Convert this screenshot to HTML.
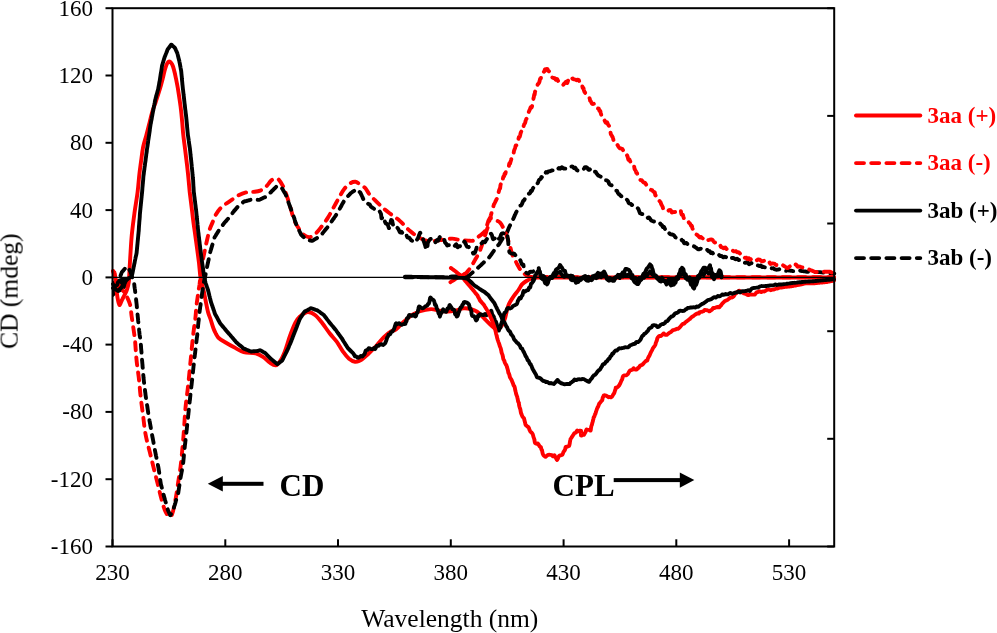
<!DOCTYPE html>
<html><head><meta charset="utf-8"><style>
html,body{margin:0;padding:0;background:#fff;overflow:hidden;width:997px;height:633px;}
svg{display:block;font-family:"Liberation Serif",serif;}
</style></head><body>
<svg width="997" height="633" viewBox="0 0 997 633">
<rect width="997" height="633" fill="#fff"/>
<g style="filter:grayscale(1)">
<g font-size="23" fill="#000">
<text x="93" y="553.9" text-anchor="end">-160</text>
<text x="93" y="486.6" text-anchor="end">-120</text>
<text x="93" y="419.3" text-anchor="end">-80</text>
<text x="93" y="352.0" text-anchor="end">-40</text>
<text x="93" y="284.8" text-anchor="end">0</text>
<text x="93" y="217.5" text-anchor="end">40</text>
<text x="93" y="150.2" text-anchor="end">80</text>
<text x="93" y="82.9" text-anchor="end">120</text>
<text x="93" y="15.6" text-anchor="end">160</text>
<text x="112.5" y="580.2" text-anchor="middle">230</text>
<text x="225.3" y="580.2" text-anchor="middle">280</text>
<text x="338.0" y="580.2" text-anchor="middle">330</text>
<text x="450.8" y="580.2" text-anchor="middle">380</text>
<text x="563.6" y="580.2" text-anchor="middle">430</text>
<text x="676.3" y="580.2" text-anchor="middle">480</text>
<text x="789.1" y="580.2" text-anchor="middle">530</text>
</g>
<text x="449.8" y="627" font-size="25.5" text-anchor="middle">Wavelength (nm)</text>
<text transform="translate(17.6,291.2) rotate(-90)" font-size="25.5" text-anchor="middle">CD (mdeg)</text>
</g>
<g>
<path d="M405.0,277.2 C405.5,277.2 406.1,277.2 406.6,277.2 C407.1,277.2 407.7,277.2 408.2,277.2 C408.7,277.2 409.2,277.2 409.8,277.2 C410.3,277.2 410.8,277.2 411.4,277.2 C411.9,277.2 412.4,277.2 413.0,277.2 C413.5,277.2 414.0,277.2 414.5,277.2 C415.1,277.2 415.6,277.2 416.1,277.2 C416.7,277.2 417.2,277.2 417.7,277.2 C418.3,277.2 418.8,277.2 419.3,277.2 C419.8,277.2 420.4,277.2 420.9,277.2 C421.4,277.2 422.0,277.2 422.5,277.2 C423.0,277.3 423.6,277.3 424.1,277.3 C424.6,277.3 425.2,277.3 425.7,277.3 C426.2,277.3 426.7,277.3 427.3,277.3 C427.8,277.3 428.3,277.3 428.9,277.3 C429.4,277.3 429.9,277.3 430.5,277.3 C431.0,277.3 431.5,277.3 432.0,277.3 C432.6,277.3 433.1,277.3 433.6,277.3 C434.2,277.3 434.7,277.3 435.2,277.3 C435.8,277.3 436.3,277.3 436.8,277.3 C437.3,277.3 437.9,277.3 438.4,277.3 C438.9,277.3 439.5,277.3 440.0,277.3 C440.5,277.3 441.0,277.2 441.5,277.2 C442.0,277.2 442.5,277.1 443.0,277.1 C443.5,277.1 444.1,277.0 444.6,277.0 C445.1,277.0 445.6,277.0 446.1,276.9 C446.6,276.9 447.1,276.9 447.6,276.8 C448.1,276.8 448.6,276.8 449.1,276.7 C449.6,276.7 450.1,276.7 450.6,276.6 C451.2,276.6 451.7,276.6 452.2,276.5 C452.7,276.5 453.2,276.5 453.7,276.4 C454.2,276.4 454.7,276.4 455.2,276.4 C455.7,276.3 456.2,276.3 456.7,276.3 C457.2,276.2 457.7,276.2 458.3,276.2 C458.8,276.1 459.3,276.1 459.8,276.1 C460.3,276.0 460.8,276.0 461.3,276.0 C461.8,275.9 462.3,275.9 462.8,275.9 C463.3,275.8 463.8,275.8 464.3,275.8 C464.8,275.8 465.4,275.7 465.9,275.7 C466.4,275.7 466.9,275.6 467.4,275.6 C467.9,275.6 468.5,275.7 468.9,275.5 C469.4,275.3 469.7,274.8 470.1,274.5 C470.5,274.1 470.9,273.8 471.3,273.5 C471.7,273.1 472.1,272.8 472.5,272.5 C472.9,272.1 473.4,271.8 473.8,271.4 C474.2,271.1 474.6,270.8 475.0,270.4 C475.4,270.1 475.8,269.8 476.2,269.4 C476.6,269.1 477.0,268.8 477.4,268.4 C477.8,268.1 478.1,267.7 478.5,267.4 C478.8,267.0 479.2,266.7 479.6,266.3 C479.9,266.0 480.3,265.7 480.7,265.3 C481.0,265.0 481.4,264.6 481.7,264.3 C482.1,263.9 482.5,263.6 482.8,263.3 C483.2,262.9 483.6,262.6 483.9,262.2 C484.3,261.9 484.6,261.5 485.0,261.2 C485.3,260.9 485.6,260.7 485.9,260.5 C486.2,260.2 486.6,260.0 486.9,259.7 C487.2,259.5 487.5,259.3 487.8,259.0 C488.1,258.7 488.3,258.4 488.6,258.1 C488.8,257.8 489.1,257.4 489.3,257.1 C489.6,256.8 489.9,256.5 490.1,256.2 C490.4,255.8 490.7,255.4 490.9,255.0 C491.2,254.6 491.5,254.2 491.8,253.8 C492.0,253.4 492.3,253.0 492.6,252.6 C492.9,252.3 493.2,251.9 493.4,251.5 C493.7,251.1 494.0,250.7 494.3,250.3 C494.5,249.9 494.8,249.5 495.1,249.1 C495.4,248.8 495.6,248.4 495.9,248.1 C496.2,247.8 496.4,247.4 496.7,247.1 C497.0,246.8 497.2,246.4 497.5,246.1 C497.8,245.8 498.0,245.4 498.3,245.1 C498.6,244.8 498.9,244.4 499.1,244.1 C499.4,243.7 499.7,243.2 499.9,242.8 C500.2,242.3 500.5,241.9 500.8,241.4 C501.0,241.0 501.3,240.5 501.6,240.1 C501.9,239.7 502.2,239.2 502.4,238.8 C502.7,238.3 503.0,237.9 503.3,237.4 C503.5,237.0 503.8,236.5 504.1,236.1 C504.3,235.8 504.6,235.4 504.9,235.1 C505.1,234.8 505.4,234.4 505.6,234.1 C505.9,233.8 506.1,233.4 506.4,233.1 C506.6,232.8 506.9,232.5 507.1,232.1 C507.3,231.7 507.5,231.2 507.7,230.7 C507.9,230.2 508.1,229.7 508.3,229.2 C508.5,228.8 508.7,228.3 508.9,227.8 C509.1,227.3 509.3,226.9 509.5,226.4 C509.7,225.9 510.0,225.5 510.2,225.0 C510.5,224.5 510.7,224.1 510.9,223.6 C511.2,223.1 511.4,222.7 511.7,222.2 C511.9,221.7 512.2,221.3 512.4,220.8 C512.6,220.3 512.8,219.8 513.0,219.4 C513.2,218.9 513.5,218.4 513.7,217.9 C513.9,217.5 514.1,217.0 514.3,216.5 C514.5,216.0 514.7,215.5 514.9,215.1 C515.1,214.6 515.4,214.1 515.6,213.6 C515.8,213.2 515.9,212.7 516.2,212.2 C516.4,211.8 516.8,211.4 517.0,211.0 C517.3,210.6 517.6,210.2 517.9,209.8 C518.1,209.5 518.4,209.1 518.7,208.7 C518.9,208.3 519.3,207.9 519.5,207.5 C519.8,206.9 519.9,206.2 520.3,205.7 C520.4,205.5 520.9,205.7 521.0,205.5 C521.4,205.2 521.6,204.7 521.8,204.2 C522.1,203.7 522.3,203.1 522.5,202.6 C522.8,202.0 522.9,201.2 523.3,200.7 C523.4,200.5 523.8,200.6 524.0,200.4 C524.3,200.0 524.5,199.5 524.8,199.0 C525.0,198.4 525.2,197.7 525.5,197.1 C525.7,196.8 526.2,196.6 526.5,196.3 C526.8,195.9 527.1,195.4 527.4,195.0 C527.7,194.6 528.0,194.1 528.3,193.8 C528.6,193.6 529.0,193.8 529.3,193.7 C529.6,193.5 530.0,193.2 530.1,192.9 C530.5,192.3 530.6,191.3 531.0,190.8 C531.2,190.6 531.7,191.1 531.8,190.9 C532.3,190.4 532.3,189.4 532.7,188.8 C532.9,188.3 533.3,188.0 533.5,187.6 C533.9,187.1 534.0,186.3 534.4,186.1 C534.6,185.9 535.1,186.7 535.4,186.5 C535.8,186.3 535.9,185.4 536.3,184.8 C536.6,184.5 537.0,184.2 537.2,183.8 C537.6,183.3 537.9,182.7 538.2,182.1 C538.5,181.4 538.6,180.6 539.0,180.0 C539.2,179.7 539.6,179.7 539.9,179.5 C540.2,179.3 540.5,179.0 540.7,178.7 C541.1,178.2 541.2,177.3 541.5,177.0 C541.7,176.9 542.2,177.6 542.4,177.5 C542.8,177.1 542.9,176.0 543.2,175.4 C543.4,174.9 543.8,174.3 544.2,174.0 C544.4,173.9 544.9,174.5 545.1,174.3 C545.5,173.8 545.6,172.5 546.0,172.1 C546.2,171.9 546.7,172.7 547.0,172.6 C547.5,172.4 547.9,171.6 548.5,171.4 C548.9,171.2 549.5,171.4 550.0,171.2 C550.5,171.1 551.0,170.7 551.5,170.5 C552.0,170.4 552.5,170.5 553.0,170.3 C553.5,170.0 554.0,169.5 554.5,169.2 C555.0,168.9 555.5,168.4 556.0,168.5 C556.5,168.5 557.0,169.6 557.4,169.6 C558.0,169.5 558.3,168.2 558.9,168.1 C559.3,167.9 559.9,168.8 560.3,168.7 C560.9,168.5 561.2,167.3 561.8,167.3 C562.2,167.2 562.7,168.0 563.2,168.2 C563.6,168.4 564.0,168.5 564.4,168.5 C564.8,168.6 565.2,168.6 565.6,168.7 C566.0,168.8 566.4,169.2 566.8,169.2 C567.3,169.1 567.8,168.5 568.3,168.4 C568.8,168.2 569.4,168.4 569.8,168.2 C570.4,167.8 570.8,166.9 571.4,166.6 C571.8,166.4 572.5,166.5 572.9,166.8 C573.4,167.0 573.6,167.9 574.1,168.1 C574.4,168.3 575.0,167.6 575.3,167.7 C575.8,168.1 576.0,169.2 576.5,169.8 C576.8,170.1 577.3,170.4 577.7,170.5 C578.1,170.5 578.5,170.5 578.9,170.3 C579.3,170.2 579.7,169.8 580.1,169.6 C580.5,169.5 580.9,169.4 581.3,169.2 C581.7,169.0 582.1,168.5 582.5,168.4 C582.9,168.4 583.4,169.1 583.7,168.9 C584.2,168.7 584.4,167.6 584.9,167.2 C585.2,167.0 585.7,167.1 586.1,167.2 C586.5,167.3 587.0,167.6 587.3,167.9 C587.8,168.4 588.0,169.3 588.5,169.7 C588.8,169.9 589.4,169.8 589.7,169.6 C590.2,169.3 590.5,168.2 590.9,168.1 C591.3,168.0 591.7,168.8 592.1,169.1 C592.5,169.5 592.9,169.9 593.3,170.3 C593.7,170.7 594.0,171.4 594.5,171.7 C594.8,171.9 595.4,171.6 595.7,171.8 C596.1,172.2 596.2,173.0 596.6,173.5 C596.8,173.9 597.2,174.2 597.5,174.5 C597.8,174.9 598.0,175.4 598.4,175.7 C598.6,175.9 599.0,175.8 599.3,175.9 C599.7,176.1 600.1,176.3 600.5,176.6 C600.9,176.9 601.4,177.2 601.7,177.6 C602.2,178.2 602.4,179.1 603.0,179.4 C603.3,179.5 603.8,178.9 604.2,179.0 C604.6,179.2 604.9,179.9 605.4,180.2 C605.7,180.4 606.2,180.2 606.6,180.4 C606.9,180.5 607.2,180.7 607.5,180.9 C607.8,181.1 608.2,181.4 608.4,181.7 C608.8,182.4 608.9,183.3 609.3,184.0 C609.5,184.3 609.9,184.6 610.2,184.8 C610.6,185.0 611.1,184.9 611.4,185.1 C611.9,185.5 612.2,186.2 612.6,186.7 C613.0,187.1 613.4,187.4 613.8,187.8 C614.2,188.2 614.6,188.7 615.0,189.2 C615.3,189.6 615.6,190.2 616.0,190.5 C616.2,190.7 616.7,190.5 616.9,190.7 C617.4,191.3 617.5,192.3 617.9,193.0 C618.1,193.4 618.5,193.8 618.8,194.1 C619.1,194.4 619.5,194.4 619.8,194.7 C620.3,195.1 620.5,195.8 621.0,196.1 C621.3,196.4 621.8,196.2 622.2,196.4 C622.6,196.6 623.0,196.9 623.4,197.2 C623.8,197.4 624.3,197.5 624.6,197.9 C625.1,198.5 625.3,199.6 625.8,200.0 C626.0,200.1 626.4,199.6 626.7,199.6 C627.0,199.7 627.4,200.0 627.6,200.4 C628.0,201.0 628.1,201.9 628.5,202.6 C628.7,203.0 629.0,203.3 629.4,203.5 C629.7,203.7 630.3,203.5 630.6,203.7 C631.1,204.0 631.3,204.9 631.8,205.0 C632.1,205.1 632.6,204.2 633.0,204.3 C633.4,204.4 633.8,205.0 634.2,205.4 C634.6,205.6 635.0,205.8 635.4,206.1 C635.8,206.4 636.2,206.7 636.6,207.1 C636.9,207.3 637.1,207.5 637.3,207.7 C637.6,208.0 637.9,208.3 638.1,208.6 C638.4,209.1 638.6,209.6 638.8,210.1 C639.1,210.8 639.3,211.6 639.6,212.2 C639.8,212.7 640.0,213.2 640.3,213.5 C640.6,213.7 641.1,213.8 641.5,213.9 C641.9,214.0 642.3,214.1 642.7,214.2 C643.1,214.4 643.6,214.4 643.9,214.7 C644.4,215.2 644.6,216.3 645.1,216.8 C645.4,217.0 646.0,216.7 646.3,216.8 C646.8,217.1 647.1,217.8 647.5,217.9 C647.9,218.0 648.3,217.3 648.7,217.4 C649.1,217.5 649.6,218.0 649.9,218.4 C650.4,219.0 650.6,219.8 651.1,220.3 C651.4,220.6 651.9,220.7 652.3,220.9 C652.8,221.2 653.3,221.4 653.8,221.5 C654.3,221.6 654.8,221.5 655.3,221.5 C655.8,221.5 656.3,221.5 656.8,221.6 C657.3,221.8 657.9,222.0 658.3,222.3 C658.7,222.7 658.8,223.4 659.2,223.7 C659.4,223.8 659.9,223.4 660.1,223.5 C660.5,223.7 660.6,224.4 661.0,224.7 C661.2,224.9 661.7,224.9 661.9,225.1 C662.3,225.6 662.5,226.7 662.9,227.1 C663.1,227.3 663.7,226.6 663.9,226.8 C664.4,227.3 664.6,228.4 665.0,229.1 C665.2,229.7 665.5,230.5 666.0,230.7 C666.2,230.8 666.8,230.0 667.0,230.1 C667.4,230.5 667.5,231.7 668.0,232.3 C668.3,232.7 668.9,232.8 669.2,233.1 C669.7,233.5 670.0,234.0 670.5,234.2 C670.9,234.4 671.3,234.4 671.8,234.5 C672.2,234.6 672.6,234.5 673.0,234.7 C673.4,234.9 673.8,235.2 674.2,235.6 C674.6,236.1 674.9,236.8 675.4,237.3 C675.7,237.6 676.2,237.9 676.5,237.8 C677.0,237.8 677.3,237.1 677.7,237.1 C678.1,237.1 678.5,237.5 678.9,237.7 C679.3,237.9 679.7,238.1 680.1,238.4 C680.4,238.6 680.8,238.8 681.1,239.0 C681.5,239.5 681.7,240.2 682.1,240.6 C682.3,240.8 682.9,240.6 683.1,240.9 C683.6,241.4 683.6,242.4 684.1,243.0 C684.3,243.2 684.8,243.4 685.1,243.4 C685.6,243.4 686.1,242.9 686.5,243.0 C687.0,243.2 687.4,244.1 687.9,244.4 C688.3,244.6 688.9,244.5 689.3,244.6 C689.8,244.9 690.2,245.4 690.7,245.6 C691.1,245.7 691.6,245.6 692.1,245.7 C692.6,245.8 693.0,246.0 693.5,246.2 C694.0,246.4 694.5,246.6 694.9,246.8 C695.4,247.1 695.9,247.4 696.3,247.8 C696.8,248.2 697.2,248.7 697.7,249.0 C698.1,249.2 698.7,249.4 699.1,249.3 C699.6,249.2 700.1,248.5 700.5,248.6 C701.0,248.7 701.4,249.6 701.9,250.0 C702.3,250.2 702.8,250.4 703.3,250.5 C703.8,250.6 704.2,250.5 704.7,250.5 C705.2,250.5 705.7,250.8 706.1,250.7 C706.5,250.6 707.0,249.8 707.3,249.9 C707.8,250.0 708.0,251.1 708.5,251.3 C708.9,251.5 709.5,251.0 709.8,251.2 C710.3,251.6 710.5,252.8 711.0,253.1 C711.3,253.2 711.9,252.5 712.2,252.6 C712.7,252.8 713.0,253.9 713.5,254.1 C713.9,254.2 714.5,253.6 714.9,253.8 C715.4,253.9 715.7,254.8 716.2,255.1 C716.6,255.2 717.1,254.9 717.5,254.9 C718.0,254.8 718.5,254.7 718.9,254.9 C719.4,255.1 719.7,255.8 720.2,256.0 C720.6,256.2 721.3,255.9 721.7,256.1 C722.3,256.4 722.7,257.3 723.2,257.4 C723.7,257.5 724.2,256.6 724.7,256.6 C725.2,256.5 725.7,257.1 726.2,257.2 C726.6,257.3 727.1,257.3 727.5,257.4 C728.0,257.6 728.5,258.4 728.9,258.3 C729.4,258.2 729.7,256.9 730.2,256.9 C730.6,256.8 731.0,257.7 731.5,257.9 C731.9,258.1 732.4,257.8 732.9,257.9 C733.3,258.0 733.8,258.2 734.2,258.4 C734.7,258.7 735.2,259.3 735.7,259.3 C736.1,259.4 736.7,258.6 737.1,258.7 C737.6,258.8 738.0,259.6 738.5,259.9 C739.0,260.1 739.5,259.9 740.0,260.0 C740.5,260.2 740.9,260.6 741.3,260.6 C741.8,260.7 742.3,260.1 742.7,260.2 C743.2,260.6 743.5,261.6 744.0,262.1 C744.4,262.5 744.9,262.9 745.3,262.9 C745.8,263.0 746.2,262.3 746.7,262.3 C747.1,262.3 747.6,262.5 748.0,262.8 C748.5,263.2 748.9,264.3 749.3,264.3 C749.8,264.4 750.2,263.2 750.7,263.1 C751.0,262.9 751.6,263.2 752.0,263.3 C752.5,263.4 753.1,263.4 753.4,263.7 C754.0,264.1 754.3,265.0 754.9,265.4 C755.3,265.6 755.8,265.6 756.3,265.6 C756.8,265.6 757.3,265.4 757.8,265.4 C758.3,265.5 758.7,266.1 759.2,266.1 C759.7,266.1 760.2,265.3 760.7,265.4 C761.2,265.5 761.5,266.6 762.1,266.9 C762.5,267.1 763.0,266.8 763.4,266.8 C763.9,266.9 764.3,267.2 764.8,267.3 C765.2,267.4 765.7,267.3 766.1,267.4 C766.6,267.5 767.0,267.6 767.5,267.6 C768.0,267.7 768.5,267.6 769.0,267.5 C769.4,267.5 769.9,267.3 770.4,267.4 C770.9,267.6 771.3,268.2 771.8,268.3 C772.3,268.5 772.8,268.1 773.2,268.2 C773.8,268.4 774.2,269.0 774.7,269.3 C775.1,269.5 775.6,269.6 776.1,269.7 C776.6,269.7 777.1,269.7 777.6,269.6 C778.1,269.6 778.6,269.4 779.1,269.3 C779.6,269.2 780.1,269.0 780.6,269.0 C781.1,269.0 781.6,269.3 782.1,269.4 C782.5,269.5 783.0,269.6 783.5,269.7 C783.9,269.9 784.4,270.0 784.8,270.2 C785.3,270.4 785.8,271.0 786.2,270.9 C786.7,270.8 787.0,269.6 787.5,269.5 C787.9,269.4 788.4,270.2 788.9,270.4 C789.3,270.6 789.8,270.5 790.2,270.6 C790.7,270.7 791.2,270.8 791.7,270.9 C792.2,270.9 792.7,271.1 793.2,271.1 C793.7,271.0 794.2,270.8 794.7,270.7 C795.2,270.6 795.7,270.3 796.2,270.3 C796.7,270.3 797.1,270.7 797.6,270.8 C798.1,270.9 798.6,270.8 799.1,270.8 C799.5,270.8 800.0,270.7 800.5,270.7 C801.0,270.8 801.4,270.9 801.9,271.0 C802.4,271.0 802.9,271.1 803.3,271.2 C803.8,271.2 804.3,271.3 804.8,271.4 C805.2,271.5 805.7,271.5 806.2,271.6 C806.6,271.7 807.1,271.7 807.5,271.8 C808.0,271.8 808.4,271.9 808.9,271.9 C809.3,272.0 809.8,272.1 810.2,272.1 C810.7,272.1 811.2,272.1 811.6,272.1 C812.1,272.1 812.6,272.1 813.1,272.1 C813.5,272.1 814.0,272.1 814.5,272.1 C815.0,272.1 815.4,272.1 815.9,272.1 C816.4,272.1 816.9,272.1 817.3,272.1 C817.8,272.1 818.3,272.1 818.8,272.1 C819.2,272.1 819.7,272.1 820.2,272.1 C820.7,272.1 821.2,272.3 821.7,272.4 C822.2,272.4 822.7,272.5 823.2,272.6 C823.8,272.7 824.3,272.8 824.8,272.9 C825.3,272.9 825.8,273.0 826.3,273.1 C826.7,273.2 827.2,273.2 827.6,273.2 C828.1,273.2 828.5,273.2 829.0,273.3 C829.4,273.3 829.9,273.3 830.3,273.4 C830.7,273.4 831.2,273.4 831.6,273.4 C832.1,273.5 832.5,273.5 833.0,273.5 C833.4,273.5 833.9,273.6 834.3,273.6" fill="none" stroke="#000000" stroke-width="3.9" stroke-linecap="round" stroke-linejoin="round" stroke-dasharray="8 7.2"/>
<path d="M450.4,282.2 C450.8,281.9 451.3,281.6 451.7,281.3 C452.2,281.0 452.6,280.8 453.1,280.5 C453.5,280.2 454.0,279.9 454.4,279.6 C454.8,279.3 455.3,279.0 455.7,278.7 C456.2,278.4 456.6,278.2 457.1,277.9 C457.5,277.6 457.9,277.3 458.4,277.0 C458.8,276.8 459.2,276.6 459.7,276.4 C460.1,276.2 460.5,275.9 460.9,275.7 C461.4,275.5 461.8,275.3 462.2,275.1 C462.6,274.9 463.0,274.7 463.5,274.5 C463.9,274.3 464.3,274.0 464.7,273.8 C465.2,273.6 465.6,273.5 466.0,273.2 C466.4,272.9 466.6,272.4 467.0,272.1 C467.3,271.7 467.6,271.3 467.9,270.9 C468.2,270.5 468.6,270.2 468.9,269.8 C469.2,269.4 469.5,269.0 469.8,268.6 C470.2,268.3 470.5,267.9 470.8,267.5 C471.1,267.1 471.3,266.7 471.5,266.2 C471.7,265.8 472.0,265.4 472.2,265.0 C472.4,264.6 472.7,264.2 472.9,263.8 C473.1,263.3 473.4,262.9 473.6,262.5 C473.8,262.1 474.1,261.7 474.3,261.2 C474.5,260.8 474.8,260.4 475.0,260.0 C475.3,259.5 475.5,259.1 475.8,258.6 C476.1,258.2 476.3,257.7 476.6,257.3 C476.9,256.8 477.1,256.4 477.4,255.9 C477.7,255.5 477.9,255.0 478.2,254.6 C478.5,254.1 478.8,253.7 479.0,253.2 C479.2,252.8 479.3,252.3 479.5,251.9 C479.7,251.4 479.8,251.0 480.0,250.5 C480.2,250.1 480.3,249.6 480.5,249.2 C480.7,248.7 480.8,248.3 481.0,247.8 C481.2,247.4 481.3,247.0 481.5,246.5 C481.7,246.1 481.8,245.6 481.9,245.1 C482.1,244.7 482.2,244.2 482.4,243.8 C482.5,243.3 482.6,242.9 482.8,242.4 C482.9,242.0 483.1,241.5 483.2,241.1 C483.4,240.6 483.5,240.2 483.6,239.7 C483.8,239.3 483.9,238.8 484.1,238.4 C484.2,237.9 484.4,237.5 484.5,237.0 C484.6,236.5 484.8,236.1 485.0,235.6 C485.1,235.2 485.3,234.7 485.4,234.3 C485.6,233.8 485.7,233.3 485.9,232.9 C486.0,232.4 486.2,232.0 486.3,231.5 C486.5,231.1 486.6,230.6 486.8,230.1 C486.9,229.7 487.1,229.2 487.2,228.8 C487.4,228.3 487.6,227.9 487.7,227.4 C487.8,226.9 488.0,226.4 488.1,225.9 C488.2,225.4 488.3,224.9 488.5,224.4 C488.6,223.9 488.7,223.3 488.8,222.8 C489.0,222.3 489.1,221.8 489.2,221.3 C489.3,220.8 489.5,220.3 489.6,219.8 C489.7,219.3 489.9,218.9 490.0,218.4 C490.1,217.9 490.3,217.4 490.4,217.0 C490.5,216.5 490.7,216.0 490.8,215.6 C490.9,215.1 491.1,214.6 491.2,214.1 C491.3,213.7 491.5,213.2 491.6,212.7 C491.7,212.2 491.9,211.8 492.0,211.3 C492.1,210.9 492.3,210.4 492.4,210.0 C492.5,209.5 492.6,209.1 492.8,208.6 C492.9,208.2 493.0,207.7 493.1,207.3 C493.3,206.8 493.4,206.4 493.5,205.9 C493.6,205.5 493.7,205.0 493.9,204.6 C494.1,204.1 494.3,203.7 494.6,203.3 C494.8,202.8 495.0,202.4 495.2,202.0 C495.4,201.5 495.7,201.1 495.9,200.6 C496.1,200.2 496.3,199.8 496.5,199.3 C496.8,198.9 497.0,198.5 497.2,198.0 C497.4,197.5 497.5,197.0 497.6,196.5 C497.7,196.0 497.8,195.5 498.0,195.0 C498.1,194.5 498.2,193.9 498.3,193.4 C498.5,192.9 498.6,192.4 498.7,191.9 C498.8,191.4 499.0,190.9 499.1,190.4 C499.2,189.9 499.4,189.4 499.6,188.9 C499.7,188.6 500.0,188.5 500.1,188.3 C500.3,187.3 500.3,186.2 500.5,185.1 C500.7,184.5 500.8,183.7 501.0,183.4 C501.1,183.3 501.4,183.9 501.5,183.8 C501.8,183.0 501.8,181.7 502.0,180.7 C502.1,180.1 502.2,179.5 502.4,179.0 C502.5,178.9 502.9,178.8 502.9,178.6 C503.2,177.9 503.1,177.1 503.4,176.5 C503.5,176.3 503.9,176.5 504.0,176.3 C504.4,175.6 504.3,174.4 504.7,173.7 C504.7,173.6 505.2,174.1 505.3,173.9 C505.6,173.3 505.6,172.2 505.9,171.4 C506.0,171.1 506.3,170.9 506.5,170.7 C506.7,170.5 507.0,170.4 507.2,170.1 C507.5,169.6 507.5,168.9 507.8,168.4 C507.9,168.1 508.2,167.9 508.3,167.6 C508.6,167.0 508.7,166.5 508.9,165.9 C509.1,165.0 509.1,163.9 509.4,163.3 C509.5,163.1 509.9,163.8 510.0,163.7 C510.2,163.3 510.3,162.4 510.5,161.8 C510.7,161.2 510.9,160.6 511.1,160.0 C511.2,159.5 511.3,158.9 511.6,158.5 C511.7,158.4 512.0,158.5 512.0,158.3 C512.2,157.7 512.2,157.0 512.4,156.3 C512.5,156.1 512.8,155.8 512.9,155.6 C513.0,155.0 513.1,154.4 513.3,153.8 C513.4,153.4 513.6,153.1 513.7,152.7 C513.9,151.9 513.9,151.2 514.1,150.4 C514.2,150.0 514.5,149.7 514.6,149.3 C514.8,148.7 515.0,148.2 515.2,147.6 C515.4,146.9 515.4,146.1 515.7,145.5 C515.8,145.3 516.2,145.6 516.3,145.4 C516.6,144.7 516.5,143.6 516.8,142.7 C516.9,142.5 517.2,142.4 517.4,142.2 C517.6,141.9 517.8,141.5 517.9,141.1 C518.1,140.5 518.3,139.9 518.4,139.2 C518.6,138.5 518.7,137.5 519.0,136.9 C519.1,136.8 519.4,137.2 519.5,137.0 C519.8,136.7 519.9,136.0 520.1,135.4 C520.3,134.7 520.4,133.9 520.6,133.2 C520.8,132.7 520.9,132.1 521.2,131.7 C521.3,131.5 521.6,131.5 521.7,131.4 C522.0,130.7 521.9,129.5 522.2,129.1 C522.2,128.9 522.6,129.7 522.6,129.6 C522.9,129.2 522.9,128.2 523.1,127.5 C523.2,127.0 523.4,126.6 523.6,126.2 C523.7,125.7 523.8,125.2 524.0,124.7 C524.1,124.4 524.3,124.2 524.5,123.9 C524.7,123.6 525.0,123.3 525.1,123.0 C525.4,122.1 525.4,121.2 525.7,120.3 C525.8,119.9 526.1,119.5 526.3,119.0 C526.5,118.7 526.8,118.4 526.9,118.0 C527.2,117.4 527.3,116.7 527.5,116.0 C527.6,115.7 527.8,115.4 528.0,115.1 C528.1,114.6 528.3,114.0 528.4,113.5 C528.6,112.9 528.7,112.3 528.8,111.8 C529.0,111.4 529.1,111.1 529.3,110.7 C529.5,110.2 529.8,109.8 530.0,109.2 C530.3,108.5 530.4,107.5 530.8,107.1 C530.9,107.0 531.4,107.9 531.5,107.7 C531.9,107.3 532.1,106.1 532.3,105.2 C532.4,104.8 532.5,104.4 532.5,103.9 C532.6,103.4 532.7,102.9 532.8,102.4 C532.8,102.3 533.0,102.2 533.0,102.0 C533.1,101.6 533.2,101.1 533.3,100.6 C533.4,99.9 533.4,99.1 533.5,98.3 C533.6,97.8 533.8,97.2 533.9,96.7 C534.0,96.0 534.0,95.1 534.3,94.6 C534.3,94.5 534.6,94.9 534.6,94.8 C534.9,94.0 534.8,92.8 535.0,91.9 C535.1,91.6 535.3,91.4 535.4,91.2 C535.6,90.7 535.7,90.1 535.9,89.6 C536.0,89.2 536.2,88.8 536.4,88.4 C536.5,88.0 536.7,87.6 536.8,87.2 C537.0,86.7 537.2,86.2 537.3,85.7 C537.5,85.2 537.6,84.6 537.8,84.2 C537.9,84.0 538.2,83.9 538.4,83.7 C538.6,83.5 538.9,83.1 539.0,82.8 C539.3,82.3 539.4,81.7 539.6,81.1 C539.8,80.3 539.9,79.5 540.2,78.7 C540.3,78.5 540.7,78.5 540.8,78.3 C541.1,77.5 541.1,76.6 541.4,75.8 C541.5,75.6 541.8,75.5 542.0,75.3 C542.2,75.2 542.5,75.1 542.6,75.0 C542.9,74.7 543.1,74.3 543.2,73.9 C543.5,73.2 543.5,72.4 543.8,71.8 C543.9,71.6 544.3,71.5 544.4,71.3 C544.7,70.7 544.6,69.8 545.0,69.4 C545.2,69.1 545.8,69.2 546.2,69.1 C546.6,69.1 547.2,68.8 547.4,69.0 C547.8,69.3 547.7,70.2 548.0,70.7 C548.1,70.9 548.4,70.9 548.6,71.1 C548.9,71.3 549.2,71.5 549.3,71.8 C549.6,72.3 549.8,72.9 550.0,73.5 C550.2,73.9 550.5,74.2 550.8,74.5 C551.0,74.8 551.3,74.9 551.5,75.2 C551.8,75.8 551.8,76.7 552.2,77.3 C552.4,77.6 553.0,77.8 553.4,77.9 C553.8,78.1 554.3,77.9 554.6,78.1 C555.1,78.5 555.3,79.7 555.8,79.8 C556.1,80.0 556.7,78.9 557.0,79.0 C557.5,79.3 557.7,80.4 558.2,81.1 C558.5,81.5 558.9,82.1 559.4,82.4 C559.7,82.6 560.2,82.5 560.6,82.6 C561.0,82.7 561.5,82.8 561.8,83.0 C562.3,83.5 562.6,84.7 563.0,84.9 C563.3,85.0 563.7,84.1 564.0,83.8 C564.4,83.4 564.8,83.2 565.1,82.8 C565.5,82.5 565.8,81.8 566.2,81.8 C566.5,81.8 567.0,83.2 567.2,83.0 C567.6,82.8 567.7,81.5 568.0,80.8 C568.2,80.2 568.4,79.7 568.8,79.2 C569.0,78.9 569.3,78.7 569.5,78.4 C569.8,78.1 570.1,77.3 570.3,77.4 C570.7,77.6 571.0,79.0 571.5,79.2 C571.8,79.4 572.3,78.5 572.7,78.5 C573.1,78.5 573.5,79.1 573.9,79.3 C574.3,79.4 574.7,79.3 575.1,79.5 C575.5,79.7 575.9,80.2 576.3,80.2 C576.7,80.3 577.1,79.8 577.5,79.7 C577.9,79.7 578.5,79.7 578.7,80.0 C579.1,80.5 579.2,81.3 579.4,82.0 C579.6,82.5 579.9,83.0 580.1,83.6 C580.3,83.9 580.6,84.4 580.9,84.6 C581.1,84.7 581.4,84.0 581.6,84.2 C581.9,84.5 582.1,85.4 582.3,86.1 C582.5,86.8 582.5,87.8 582.8,88.2 C582.9,88.3 583.2,87.7 583.3,87.8 C583.5,88.0 583.6,88.8 583.7,89.3 C583.9,89.9 584.0,90.5 584.2,91.1 C584.3,91.4 584.5,91.7 584.7,92.1 C585.0,92.6 585.2,93.2 585.6,93.7 C585.8,94.0 586.2,94.3 586.5,94.5 C586.8,94.7 587.1,94.8 587.4,94.9 C587.7,95.1 588.1,95.2 588.3,95.4 C588.6,95.7 588.6,96.2 588.8,96.6 C588.9,97.0 589.1,97.4 589.3,97.8 C589.4,98.1 589.7,98.3 589.7,98.6 C590.0,99.4 590.0,100.3 590.2,101.0 C590.3,101.2 590.6,101.1 590.7,101.2 C591.2,101.9 591.4,103.0 591.9,103.6 C592.2,103.9 592.7,104.0 593.1,104.0 C593.5,104.0 594.0,103.5 594.3,103.7 C594.8,104.0 595.1,104.9 595.5,105.5 C595.8,105.9 596.0,106.5 596.3,106.7 C596.5,106.9 597.0,106.5 597.1,106.6 C597.5,107.1 597.6,108.1 598.0,108.5 C598.1,108.7 598.6,108.4 598.8,108.6 C599.2,109.3 599.2,110.6 599.6,111.1 C599.7,111.3 600.1,110.7 600.2,110.8 C600.5,111.4 600.6,112.5 600.8,113.3 C601.0,114.0 601.1,114.6 601.4,115.2 C601.5,115.6 601.7,116.0 602.0,116.2 C602.1,116.3 602.5,116.0 602.6,116.2 C602.9,116.6 602.9,117.4 603.2,118.0 C603.3,118.2 603.7,118.2 603.8,118.4 C604.1,118.9 604.2,119.5 604.4,120.0 C604.7,120.7 604.9,121.4 605.3,122.0 C605.5,122.3 605.8,122.8 606.1,122.9 C606.4,122.9 606.8,122.1 607.0,122.2 C607.3,122.4 607.5,123.3 607.8,123.9 C608.1,124.4 608.4,124.9 608.7,125.4 C608.8,125.5 609.0,125.6 609.0,125.8 C609.2,126.7 609.2,127.6 609.4,128.4 C609.5,129.0 609.6,129.5 609.7,130.0 C609.8,130.2 610.0,130.5 610.1,130.7 C610.2,131.0 610.3,131.3 610.4,131.7 C610.6,132.5 610.6,133.3 610.8,134.0 C610.8,134.3 610.9,134.5 611.1,134.7 C611.3,134.9 611.6,135.1 611.7,135.3 C612.0,135.7 612.1,136.2 612.3,136.7 C612.5,137.0 612.8,137.3 612.9,137.6 C613.2,138.4 613.2,139.4 613.5,140.2 C613.6,140.4 614.0,140.5 614.1,140.7 C614.4,141.2 614.7,141.8 614.9,142.3 C615.2,142.8 615.5,143.3 615.8,143.7 C616.1,144.2 616.3,145.0 616.6,145.2 C616.8,145.4 617.3,144.7 617.5,144.9 C617.8,145.2 618.0,146.0 618.3,146.5 C618.7,147.1 619.1,147.7 619.6,148.1 C620.0,148.4 620.5,148.4 621.0,148.5 C621.4,148.6 621.8,148.6 622.1,148.8 C622.6,149.2 622.8,150.0 623.2,150.4 C623.5,150.6 624.1,150.4 624.4,150.5 C624.8,150.8 625.2,151.1 625.5,151.5 C625.8,151.9 625.9,152.3 626.1,152.7 C626.3,153.3 626.4,154.0 626.7,154.7 C626.8,155.1 627.1,155.4 627.3,155.8 C627.5,156.4 627.7,157.0 627.9,157.7 C628.1,158.4 628.2,159.5 628.5,159.9 C628.6,160.1 629.2,159.2 629.3,159.4 C629.7,159.7 629.9,160.7 630.2,161.3 C630.4,161.8 630.7,162.5 631.0,163.0 C631.2,163.2 631.6,163.3 631.9,163.5 C632.2,163.8 632.5,164.1 632.7,164.5 C633.0,165.0 633.0,165.9 633.4,166.3 C633.5,166.4 633.9,165.9 634.0,166.1 C634.4,166.9 634.3,168.3 634.7,169.3 C634.8,169.6 635.2,169.8 635.3,170.1 C635.6,170.5 635.8,171.1 636.0,171.6 C636.2,172.1 636.2,172.7 636.5,173.0 C636.5,173.1 636.8,172.8 636.9,172.9 C637.1,173.3 637.2,173.8 637.3,174.3 C637.5,174.8 637.6,175.4 637.8,175.9 C638.1,176.4 638.5,176.9 638.8,177.5 C639.1,178.1 639.4,178.7 639.8,179.3 C640.0,179.7 640.4,180.0 640.7,180.2 C641.0,180.3 641.5,180.0 641.7,180.2 C642.1,180.4 642.3,181.1 642.7,181.5 C643.1,182.0 643.4,182.4 643.9,182.7 C644.2,182.9 644.8,182.5 645.1,182.8 C645.6,183.3 645.8,184.3 646.3,184.9 C646.6,185.3 647.1,185.5 647.5,185.8 C647.8,186.0 648.2,186.2 648.4,186.6 C648.8,187.0 649.0,187.6 649.3,188.1 C649.6,188.5 649.9,188.8 650.2,189.1 C650.5,189.4 650.8,189.8 651.1,190.0 C651.4,190.2 651.7,190.1 652.0,190.2 C652.3,190.4 652.6,190.8 652.9,191.1 C653.2,191.3 653.5,191.6 653.8,191.9 C654.1,192.1 654.6,192.1 654.7,192.4 C655.1,193.3 655.0,194.6 655.4,195.4 C655.5,195.5 655.9,195.2 656.1,195.3 C656.4,195.4 656.7,195.7 656.9,195.9 C657.2,196.5 657.3,197.2 657.6,197.7 C657.8,198.0 658.1,198.2 658.3,198.5 C658.6,199.1 658.7,199.8 659.1,200.4 C659.3,200.8 659.6,201.1 659.8,201.4 C660.1,201.7 660.4,202.0 660.6,202.4 C660.9,203.0 661.0,203.7 661.3,204.4 C661.5,204.8 661.7,205.2 662.0,205.6 C662.2,206.1 662.5,206.5 662.6,206.9 C662.9,207.7 663.0,208.5 663.3,209.2 C663.4,209.4 663.8,209.5 664.0,209.6 C664.4,209.8 664.8,210.0 665.2,210.2 C665.7,210.4 666.1,210.8 666.5,211.0 C666.9,211.2 667.4,211.4 667.8,211.3 C668.2,211.2 668.5,210.5 669.0,210.2 C669.4,210.1 670.1,209.8 670.5,210.1 C671.1,210.6 671.4,212.0 672.0,212.5 C672.4,212.7 673.0,212.2 673.5,212.1 C674.0,212.0 674.5,212.2 675.0,212.0 C675.5,211.9 675.8,211.5 676.3,211.3 C676.7,211.2 677.1,211.1 677.5,211.0 C678.0,210.9 678.4,210.8 678.8,210.6 C679.3,210.4 679.7,209.7 680.1,209.8 C680.4,209.8 680.6,210.5 680.8,210.9 C681.1,211.9 681.1,213.0 681.4,214.0 C681.5,214.4 681.8,214.8 682.1,214.9 C682.3,215.0 682.7,214.6 682.8,214.8 C683.1,215.3 683.2,216.1 683.4,216.8 C683.7,217.4 683.7,218.2 684.1,218.7 C684.3,218.9 684.8,218.9 685.1,218.9 C685.4,218.9 685.9,218.7 686.1,218.8 C686.5,219.1 686.7,219.8 687.1,220.2 C687.4,220.5 687.8,220.7 688.1,221.1 C688.5,221.6 688.7,222.4 689.1,222.9 C689.3,223.2 689.6,223.2 689.8,223.4 C690.0,223.7 690.3,224.0 690.4,224.4 C690.7,224.8 690.8,225.5 691.1,225.9 C691.2,226.0 691.7,225.7 691.8,225.9 C692.1,226.5 692.2,227.5 692.4,228.3 C692.6,228.8 692.9,229.3 693.1,229.7 C693.3,230.0 693.5,230.4 693.7,230.6 C693.9,230.9 694.1,231.0 694.3,231.2 C694.5,231.5 694.7,231.9 694.9,232.3 C695.1,232.5 695.3,232.7 695.5,232.9 C695.7,233.3 695.8,233.9 696.1,234.3 C696.4,234.6 696.9,234.7 697.3,235.0 C697.7,235.4 698.1,235.8 698.5,236.2 C698.9,236.6 699.2,237.3 699.7,237.5 C700.0,237.6 700.5,236.8 700.9,236.9 C701.3,237.0 701.7,237.7 702.1,238.0 C702.5,238.3 703.0,238.5 703.4,238.7 C703.9,238.9 704.4,239.1 704.8,239.0 C705.2,238.9 705.7,238.0 706.1,238.1 C706.7,238.4 707.0,239.9 707.6,240.2 C708.0,240.4 708.6,239.9 709.2,239.8 C709.7,239.6 710.2,239.5 710.7,239.5 C711.2,239.4 711.8,239.3 712.2,239.6 C712.7,239.9 713.0,240.7 713.5,241.2 C713.8,241.7 714.2,242.3 714.7,242.5 C715.1,242.6 715.6,242.0 716.0,242.0 C716.4,242.1 716.8,242.6 717.2,242.9 C717.6,243.2 717.8,243.8 718.2,244.0 C718.5,244.2 718.9,243.9 719.2,244.1 C719.6,244.4 719.9,244.9 720.2,245.4 C720.6,246.0 720.7,246.8 721.2,247.2 C721.4,247.4 721.9,247.2 722.2,247.3 C722.7,247.5 723.2,248.2 723.7,248.2 C724.2,248.2 724.8,247.4 725.2,247.5 C725.8,247.6 726.1,248.7 726.7,249.1 C727.1,249.3 727.7,249.3 728.2,249.3 C728.6,249.2 729.0,248.6 729.4,248.7 C729.8,248.7 730.2,249.4 730.6,249.8 C731.0,250.1 731.4,250.4 731.8,250.6 C732.2,250.7 732.6,250.7 733.0,250.8 C733.4,251.0 733.8,251.4 734.2,251.4 C734.7,251.5 735.2,251.0 735.7,251.1 C736.2,251.3 736.6,252.0 737.2,252.2 C737.6,252.4 738.3,252.1 738.7,252.3 C739.3,252.5 739.6,253.3 740.2,253.6 C740.5,253.8 741.0,253.5 741.2,253.7 C741.6,254.3 741.7,255.4 742.1,256.0 C742.3,256.2 742.8,256.1 743.1,256.2 C743.4,256.2 743.8,256.2 744.0,256.5 C744.4,256.8 744.6,257.6 745.0,257.8 C745.3,258.0 745.9,257.5 746.2,257.6 C746.8,257.9 747.0,259.1 747.5,259.2 C747.9,259.3 748.4,258.1 748.8,258.2 C749.2,258.3 749.5,259.5 750.0,259.7 C750.4,259.8 750.9,259.1 751.4,259.2 C751.8,259.3 752.3,260.3 752.7,260.2 C753.2,260.2 753.6,259.0 754.0,259.0 C754.5,259.0 754.9,259.9 755.4,260.2 C755.8,260.4 756.3,260.5 756.8,260.3 C757.2,260.2 757.6,259.6 758.1,259.5 C758.5,259.4 759.0,259.5 759.4,259.6 C759.9,259.8 760.3,260.2 760.8,260.5 C761.2,260.8 761.6,261.3 762.1,261.4 C762.5,261.5 763.0,261.0 763.5,260.9 C764.0,260.8 764.5,260.6 764.9,260.7 C765.4,260.9 765.8,261.5 766.3,261.9 C766.8,262.2 767.2,262.9 767.7,262.9 C768.2,262.9 768.7,261.8 769.1,261.9 C769.6,262.1 769.9,263.6 770.4,264.0 C770.7,264.2 771.3,263.7 771.7,263.6 C772.2,263.5 772.6,263.3 773.1,263.4 C773.5,263.4 774.0,263.5 774.4,263.7 C774.9,264.0 775.2,264.5 775.7,264.7 C776.1,265.0 776.7,265.1 777.1,265.1 C777.6,265.1 778.1,264.7 778.5,264.6 C779.0,264.5 779.5,264.4 780.0,264.6 C780.5,264.8 780.9,265.5 781.4,265.6 C781.8,265.7 782.4,265.1 782.8,265.2 C783.3,265.3 783.6,265.9 784.0,266.1 C784.4,266.3 784.9,266.4 785.3,266.7 C785.8,266.9 786.1,267.4 786.5,267.7 C786.9,267.9 787.4,268.1 787.8,268.0 C788.3,267.8 788.7,267.1 789.2,266.8 C789.6,266.5 790.2,266.1 790.6,266.2 C791.1,266.2 791.7,267.2 792.1,267.0 C792.6,266.8 792.9,265.4 793.5,264.9 C793.8,264.6 794.4,264.6 794.9,264.5 C795.3,264.5 795.9,264.5 796.2,264.8 C796.7,265.2 796.9,266.3 797.5,266.7 C797.8,266.9 798.3,266.5 798.7,266.5 C799.2,266.5 799.6,266.6 800.0,266.7 C800.4,266.8 800.9,267.0 801.3,267.1 C801.8,267.2 802.2,267.4 802.7,267.5 C803.2,267.7 803.7,267.8 804.1,267.9 C804.6,268.1 805.1,268.2 805.6,268.4 C806.0,268.5 806.5,268.6 807.0,268.8 C807.5,268.9 807.9,269.0 808.4,269.2 C808.9,269.4 809.3,269.6 809.8,269.8 C810.3,270.0 810.8,270.2 811.2,270.4 C811.7,270.6 812.2,270.7 812.7,270.9 C813.1,271.1 813.6,271.3 814.1,271.5 C814.6,271.7 815.0,272.0 815.5,272.1 C816.0,272.2 816.5,272.0 817.1,272.0 C817.6,272.0 818.1,272.0 818.6,271.9 C819.1,271.9 819.7,271.9 820.2,271.9 C820.7,271.8 821.2,271.8 821.7,271.8 C822.3,271.8 822.8,271.7 823.3,271.7 C823.7,271.7 824.2,271.7 824.6,271.7 C825.0,271.7 825.4,271.7 825.9,271.7 C826.3,271.7 826.7,271.7 827.1,271.7 C827.6,271.7 828.0,271.7 828.4,271.7 C828.8,271.7 829.3,271.6 829.7,271.7 C830.1,271.8 830.5,272.0 830.9,272.1 C831.3,272.3 831.7,272.4 832.1,272.6 C832.5,272.8 832.9,272.9 833.3,273.1 C833.7,273.2 834.1,273.4 834.5,273.5" fill="none" stroke="#ff0000" stroke-width="3.9" stroke-linecap="round" stroke-linejoin="round" stroke-dasharray="8 7.2"/>
<path d="M112.8,282.0 L116.0,280.5 L121.0,278.8 L126.6,278.3 L128.3,279.4 L127.0,284.0 L125.5,287.1 L121.1,291.0 L116.6,292.7 L113.3,296.0 L112.8,290.0 Z" fill="#000" stroke="#000" stroke-width="1.5" stroke-linejoin="round"/>
<path d="M113.0,271.0 C113.6,271.7 114.6,272.2 114.7,273.0 C115.8,279.2 115.8,285.7 116.7,292.0 C117.3,296.4 118.2,303.1 119.4,305.0 C119.9,305.8 121.1,301.7 122.0,300.0 C122.8,298.3 123.7,296.7 124.5,295.0 C125.4,293.2 126.4,291.5 127.0,289.6 C127.8,287.1 128.5,284.6 128.8,282.0 C129.3,278.0 129.3,274.0 129.5,270.0 C129.7,266.0 130.0,262.0 130.2,258.0 C130.5,253.7 130.7,249.3 131.0,245.0 C131.3,240.7 131.6,236.3 132.1,232.0 C132.8,225.3 133.7,218.7 134.6,212.0 C135.5,205.3 136.8,198.7 137.6,192.0 C138.4,186.0 138.7,180.0 139.4,174.0 C139.9,169.4 140.6,164.9 141.2,160.3 C141.8,155.8 142.3,151.2 143.2,146.7 C144.0,142.7 145.4,138.9 146.4,135.0 C147.4,131.3 148.3,127.7 149.2,124.0 C150.2,119.9 151.1,115.8 152.3,111.8 C153.2,108.6 154.5,105.5 155.6,102.3 C157.0,98.0 158.5,93.7 159.8,89.3 C160.9,85.8 161.8,82.2 162.7,78.7 C163.7,74.9 164.3,71.0 165.6,67.3 C166.3,65.3 167.6,62.2 168.9,61.6 C169.8,61.2 171.5,63.3 172.2,64.5 C173.4,66.7 173.8,69.4 174.5,71.9 C175.1,74.1 175.5,76.4 176.0,78.7 C176.6,81.8 177.3,84.9 177.8,88.0 C178.4,91.7 179.0,95.3 179.5,99.0 C180.0,102.7 180.6,106.3 181.0,110.0 C181.5,114.0 181.8,118.0 182.2,122.0 C182.6,126.3 182.8,130.7 183.3,135.0 C183.8,139.5 184.4,144.0 185.0,148.5 C185.7,154.5 186.5,160.6 187.2,166.6 C187.7,171.1 188.2,175.5 188.6,180.0 C189.0,184.0 189.3,188.0 189.7,192.0 C190.5,198.7 191.4,205.3 192.2,212.0 C192.7,216.3 193.2,220.7 193.8,225.0 C194.1,227.3 194.5,229.7 194.8,232.0 C195.6,237.6 196.3,243.1 197.1,248.7 C197.7,253.5 198.4,258.2 199.0,263.0 C199.5,267.7 199.8,272.4 200.4,277.0 C200.7,279.0 201.1,281.0 201.6,283.0 C202.2,285.4 203.0,287.6 203.5,290.0 C204.3,293.3 204.8,296.7 205.5,300.0 C206.3,304.0 207.0,308.1 208.0,312.0 C208.7,314.7 209.9,317.3 210.8,320.0 C211.7,322.8 212.5,325.7 213.5,328.5 C214.2,330.4 215.1,332.2 216.0,334.0 C216.7,335.3 217.3,336.7 218.4,337.7 C220.5,339.6 223.1,341.0 225.6,342.5 C228.4,344.2 231.2,345.8 234.1,347.3 C237.3,349.0 240.3,351.2 243.7,352.1 C247.5,353.2 251.9,352.3 255.7,353.3 C258.3,353.9 260.8,355.4 263.0,356.9 C265.6,358.6 267.6,361.2 270.2,362.9 C271.8,364.0 274.0,365.6 275.6,365.4 C277.2,365.2 278.8,363.2 279.8,361.7 C281.8,358.8 283.3,355.4 284.6,352.1 C286.8,346.5 288.2,340.6 290.3,335.0 C291.9,330.7 293.4,326.3 295.5,322.3 C296.6,320.2 298.3,318.2 300.0,316.5 C301.1,315.3 302.6,314.3 304.0,313.5 C305.3,312.8 306.9,311.8 308.3,312.0 C310.6,312.3 313.1,313.5 315.0,315.0 C317.8,317.2 320.0,320.2 322.2,323.0 C324.9,326.4 327.1,330.1 329.8,333.5 C332.0,336.4 334.7,338.9 336.9,341.9 C339.1,345.0 340.8,348.5 343.0,351.6 C344.8,354.1 346.7,356.8 349.0,358.8 C350.7,360.2 352.9,361.6 355.0,361.8 C356.9,362.0 359.2,361.0 361.0,360.0 C363.6,358.4 365.9,356.1 368.2,354.0 C371.1,351.3 373.9,348.4 376.6,345.5 C379.1,342.8 381.3,339.7 383.9,337.1 C386.1,335.0 388.5,333.1 391.0,331.5 C392.2,330.7 393.8,330.7 395.0,330.0 C396.5,329.1 397.7,327.7 399.0,326.5 C400.4,325.2 401.6,323.8 403.0,322.5 C404.3,321.3 405.7,320.2 407.0,319.0 C408.4,317.8 409.6,316.4 411.1,315.5 C413.6,313.9 416.3,312.4 419.1,311.5 C423.0,310.3 427.1,309.3 431.1,309.1 C433.8,309.0 436.4,310.3 439.1,310.7 C441.8,311.1 444.5,311.5 447.2,311.5 C449.9,311.5 452.6,311.2 455.2,310.7 C458.0,310.1 460.7,308.6 463.5,308.3 C466.0,308.0 468.7,308.5 471.2,309.1 C473.2,309.6 475.3,310.5 477.0,311.7 C479.5,313.4 481.5,315.8 483.7,317.9 C485.9,320.1 488.0,322.4 490.3,324.5 C492.1,326.1 493.9,328.3 496.0,329.0 C497.2,329.4 499.1,328.9 500.0,328.0 C502.0,325.9 503.4,322.7 504.5,319.8 C506.2,315.2 506.6,310.1 508.3,305.6 C509.4,302.6 511.3,299.8 513.1,297.1 C514.8,294.5 517.0,292.1 518.8,289.5 C520.0,287.9 520.7,285.9 522.0,284.4 C523.2,283.0 524.8,282.0 526.4,281.0 C528.0,280.0 529.8,279.1 531.6,278.5 C533.0,278.0 534.5,277.6 536.0,277.6 C635.3,277.3 734.7,277.5 834.0,277.5" fill="none" stroke="#ff0000" stroke-width="3.9" stroke-linecap="round" stroke-linejoin="round"/>
<path d="M113.0,271.0 C114.0,274.0 114.7,277.1 116.0,280.0 C117.1,282.5 118.5,284.8 120.0,287.0 C121.2,288.8 122.8,290.3 124.0,292.0 C125.1,293.6 126.2,295.3 127.0,297.0 C128.2,299.5 129.5,302.0 130.1,304.7 C131.0,308.4 131.1,312.2 131.6,316.0 C132.3,321.0 133.1,326.0 133.8,331.0 C134.2,334.0 134.7,337.0 135.0,340.0 C135.6,346.8 135.9,353.7 136.6,360.5 C137.2,366.8 138.3,373.2 139.0,379.5 C139.6,384.8 139.9,390.0 140.5,395.3 C141.2,401.6 142.1,407.9 142.9,414.2 C143.8,420.8 144.3,427.5 145.5,434.0 C146.6,440.1 148.3,446.1 149.8,452.1 C151.1,457.4 152.4,462.7 153.7,468.0 C155.0,473.3 156.4,478.5 157.7,483.8 C158.7,488.0 159.7,492.2 160.8,496.4 C162.0,501.0 163.1,505.6 164.8,510.0 C165.7,512.2 166.9,514.5 168.5,516.0 C169.1,516.6 171.1,517.0 171.4,516.2 C173.5,511.0 174.6,504.1 175.8,498.0 C176.8,492.8 177.4,487.5 178.2,482.2 C179.0,476.9 179.9,471.7 180.6,466.4 C181.3,461.1 181.7,455.9 182.2,450.6 C182.7,445.3 183.2,440.0 183.6,434.7 C184.3,425.8 184.7,416.8 185.5,407.9 C186.1,401.1 187.2,394.2 187.9,387.4 C188.8,379.5 189.5,371.6 190.3,363.7 C191.1,355.8 191.8,347.9 192.6,340.0 C193.1,335.3 193.7,330.7 194.3,326.0 C194.6,323.7 195.0,321.3 195.3,319.0 C195.8,314.2 196.1,309.4 196.6,304.6 C196.9,301.7 197.4,298.9 197.8,296.0 C198.1,293.7 198.4,291.3 198.8,289.0 C199.0,287.7 199.3,286.3 199.5,285.0 C200.2,279.2 200.5,273.4 201.4,267.7 C202.1,262.9 203.2,258.2 204.2,253.4 C205.0,249.6 205.7,245.8 206.6,242.0 C207.6,237.7 208.5,233.3 209.8,229.0 C210.5,226.7 211.7,224.5 212.6,222.2 C213.6,219.8 214.4,217.3 215.6,215.1 C216.9,212.8 218.3,210.5 220.1,208.6 C221.7,206.9 223.7,205.5 225.6,204.1 C227.7,202.5 229.9,201.1 232.1,199.6 C234.1,198.2 236.0,196.7 238.1,195.6 C240.4,194.4 242.7,193.2 245.2,192.6 C247.8,192.0 250.5,192.3 253.2,191.9 C255.5,191.6 258.1,191.5 260.2,190.6 C262.4,189.7 264.4,188.1 266.2,186.5 C268.2,184.7 269.5,182.1 271.5,180.3 C272.5,179.4 273.9,178.7 275.2,178.5 C276.3,178.4 277.8,178.6 278.6,179.4 C280.5,181.3 281.9,184.1 283.2,186.6 C284.7,189.7 285.8,193.0 286.9,196.2 C288.2,200.0 289.2,203.8 290.4,207.6 C291.7,211.7 292.6,216.0 294.2,220.0 C295.4,223.1 297.1,226.0 298.9,228.8 C300.3,230.9 301.7,233.3 303.7,234.8 C305.3,236.1 307.8,237.4 309.7,237.2 C311.8,237.0 314.0,235.1 315.7,233.6 C318.0,231.5 319.8,228.9 321.7,226.4 C323.8,223.6 326.0,220.8 327.8,217.9 C330.0,214.4 331.8,210.7 333.8,207.1 C335.8,203.5 337.7,199.9 339.8,196.3 C341.3,193.7 342.7,190.8 344.6,188.5 C346.3,186.4 348.4,184.5 350.6,183.1 C352.0,182.2 353.9,181.7 355.4,181.8 C356.7,181.9 357.9,183.0 359.0,183.7 C361.1,185.0 363.4,186.2 365.1,187.9 C366.6,189.4 367.4,191.6 368.7,193.3 C370.6,195.6 372.6,197.8 374.7,199.9 C376.3,201.6 378.0,203.2 379.7,204.8 C381.6,206.6 383.5,208.4 385.5,210.1 C386.9,211.3 388.5,212.4 390.0,213.5 C393.4,216.0 396.9,218.3 400.1,221.1 C403.6,224.2 406.5,228.1 410.1,231.1 C413.2,233.7 416.6,236.1 420.1,238.1 C422.6,239.5 425.3,240.8 428.1,241.1 C432.0,241.5 436.2,240.5 440.2,240.1 C444.2,239.7 448.2,238.6 452.2,238.6 C454.9,238.6 457.5,239.8 460.2,240.1 C462.9,240.4 465.6,240.5 468.3,240.6 C470.0,240.7 471.8,241.2 473.3,240.6 C475.3,239.8 477.0,237.9 478.8,236.5 C480.9,234.8 483.6,233.4 484.9,231.2 C487.2,227.4 487.3,221.3 489.6,218.5 C490.5,217.5 492.9,219.2 494.4,219.8 C496.4,220.6 498.7,221.3 500.1,222.7 C501.8,224.4 502.8,227.0 503.9,229.3 C505.0,231.4 505.9,233.7 506.7,235.9 C507.9,239.2 509.0,242.6 510.0,246.0 C510.8,248.6 511.2,251.4 512.1,254.0 C512.7,255.7 513.7,257.2 514.5,258.8 C515.6,260.9 516.5,263.1 517.7,265.2 C518.9,267.4 520.1,269.8 521.7,271.7 C523.0,273.2 524.8,274.2 526.5,275.3 C527.6,276.0 528.7,276.9 530.0,276.9 C631.2,277.5 732.7,277.1 834.0,277.2" fill="none" stroke="#ff0000" stroke-width="3.9" stroke-linecap="round" stroke-linejoin="round" stroke-dasharray="8 7.2"/>
<path d="M113.0,284.0 C113.2,284.6 113.4,285.1 113.7,285.7 C113.9,286.2 114.1,286.8 114.3,287.3 C114.6,287.9 114.6,288.6 115.0,289.0 C115.4,289.4 116.0,289.7 116.5,290.0 C117.0,290.3 117.5,291.1 118.0,291.0 C118.5,290.9 119.0,290.0 119.5,289.5 C120.0,289.0 120.5,288.5 121.0,288.0 C121.4,287.6 121.7,287.1 122.0,286.7 C122.3,286.2 122.7,285.8 123.0,285.3 C123.3,284.9 123.7,284.5 124.0,284.0 C124.3,283.6 124.6,283.1 124.8,282.7 C125.1,282.2 125.4,281.8 125.7,281.3 C125.9,280.9 126.2,280.4 126.5,280.0 C126.9,279.6 127.3,279.3 127.8,279.0 C128.2,278.7 128.6,278.3 129.0,278.0 C129.3,277.8 129.7,277.7 130.0,277.5 C130.3,277.3 130.8,277.3 131.0,277.0 C131.3,276.6 131.4,276.0 131.7,275.5 C131.9,275.0 132.1,274.5 132.3,274.0 C132.5,273.4 132.6,272.7 132.7,272.0 C132.8,271.3 133.0,270.7 133.1,270.0 C133.2,269.3 133.4,268.7 133.5,268.0 C133.6,267.4 133.7,266.8 133.9,266.2 C134.0,265.6 134.1,265.0 134.2,264.4 C134.3,263.8 134.5,263.2 134.6,262.6 C134.7,262.0 134.8,261.4 134.9,260.8 C135.1,260.2 135.2,259.6 135.3,259.0 C135.4,258.3 135.6,257.7 135.7,257.0 C135.9,256.3 136.0,255.7 136.2,255.0 C136.3,254.3 136.5,253.7 136.6,253.0 C136.7,252.3 136.7,251.6 136.8,250.9 C136.9,250.2 136.9,249.5 137.0,248.8 C137.1,248.1 137.1,247.4 137.2,246.7 C137.3,246.0 137.3,245.3 137.4,244.6 C137.5,243.9 137.5,243.2 137.6,242.5 C137.7,241.8 137.7,241.1 137.8,240.4 C137.9,239.7 137.9,239.0 138.0,238.3 C138.1,237.6 138.1,236.9 138.2,236.2 C138.3,235.5 138.3,234.8 138.4,234.1 C138.5,233.4 138.5,232.7 138.6,232.0 C138.7,231.3 138.7,230.7 138.8,230.0 C138.8,229.3 138.8,228.7 138.9,228.0 C138.9,227.3 139.0,226.7 139.0,226.0 C139.1,225.3 139.1,224.7 139.2,224.0 C139.2,223.3 139.3,222.7 139.3,222.0 C139.4,221.3 139.4,220.7 139.5,220.0 C139.6,219.3 139.6,218.7 139.7,218.0 C139.7,217.3 139.8,216.7 139.8,216.0 C139.8,215.3 139.9,214.7 139.9,214.0 C140.0,213.3 140.0,212.7 140.1,212.0 C140.2,211.3 140.2,210.7 140.3,210.0 C140.4,209.3 140.4,208.7 140.5,208.0 C140.6,207.3 140.6,206.7 140.7,206.0 C140.8,205.3 140.8,204.7 140.9,204.0 C141.0,203.3 141.0,202.7 141.1,202.0 C141.2,201.3 141.2,200.7 141.3,200.0 C141.4,199.3 141.4,198.7 141.5,198.0 C141.6,197.3 141.6,196.7 141.7,196.0 C141.8,195.3 141.8,194.7 141.9,194.0 C142.0,193.3 142.0,192.7 142.1,192.0 C142.2,191.3 142.2,190.6 142.3,189.9 C142.3,189.3 142.4,188.6 142.4,187.9 C142.5,187.2 142.6,186.5 142.6,185.8 C142.7,185.2 142.7,184.5 142.8,183.8 C142.9,183.1 142.9,182.4 143.0,181.8 C143.0,181.1 143.1,180.4 143.2,179.7 C143.2,179.0 143.3,178.3 143.3,177.7 C143.4,177.0 143.4,176.3 143.5,175.6 C143.6,175.0 143.7,174.3 143.8,173.7 C143.8,173.0 143.9,172.4 144.0,171.7 C144.1,171.1 144.2,170.5 144.3,169.8 C144.4,169.2 144.4,168.5 144.5,167.9 C144.6,167.2 144.7,166.6 144.8,166.0 C144.9,165.3 145.0,164.7 145.0,164.0 C145.1,163.4 145.2,162.7 145.3,162.1 C145.4,161.5 145.5,160.8 145.6,160.2 C145.6,159.5 145.7,158.9 145.8,158.2 C145.9,157.6 146.0,156.9 146.1,156.3 C146.2,155.6 146.2,155.0 146.3,154.3 C146.4,153.7 146.5,153.0 146.6,152.4 C146.7,151.7 146.8,151.1 146.8,150.4 C146.9,149.8 147.0,149.1 147.1,148.5 C147.2,147.9 147.3,147.2 147.4,146.6 C147.5,145.9 147.6,145.3 147.7,144.6 C147.8,144.0 147.9,143.4 148.0,142.7 C148.1,142.1 148.1,141.4 148.2,140.8 C148.3,140.1 148.4,139.5 148.5,138.9 C148.6,138.2 148.7,137.6 148.8,136.9 C148.9,136.3 149.0,135.6 149.1,135.0 C149.2,134.3 149.3,133.7 149.4,133.0 C149.5,132.3 149.6,131.7 149.7,131.0 C149.8,130.3 149.8,129.7 149.9,129.0 C150.0,128.3 150.1,127.7 150.2,127.0 C150.3,126.3 150.4,125.7 150.5,125.0 C150.6,124.3 150.8,123.6 150.9,122.9 C151.0,122.2 151.1,121.5 151.3,120.8 C151.4,120.1 151.5,119.4 151.7,118.8 C151.8,118.1 151.9,117.4 152.0,116.7 C152.2,116.0 152.3,115.3 152.4,114.6 C152.5,113.9 152.7,113.2 152.8,112.5 C152.9,111.9 153.0,111.2 153.2,110.6 C153.3,109.9 153.4,109.3 153.5,108.6 C153.7,108.0 153.8,107.4 153.9,106.7 C154.0,106.1 154.2,105.4 154.3,104.8 C154.4,104.1 154.5,103.5 154.7,102.9 C154.8,102.2 154.9,101.6 155.0,100.9 C155.2,100.3 155.2,99.6 155.4,99.0 C155.6,98.3 155.8,97.7 156.0,97.0 C156.1,96.3 156.3,95.7 156.5,95.0 C156.7,94.3 156.9,93.7 157.1,93.0 C157.3,92.3 157.5,91.7 157.6,91.0 C157.8,90.3 158.0,89.7 158.2,89.0 C158.3,88.4 158.4,87.7 158.5,87.1 C158.7,86.5 158.8,85.8 158.9,85.2 C159.0,84.6 159.1,83.9 159.2,83.3 C159.3,82.7 159.4,82.0 159.6,81.4 C159.7,80.8 159.8,80.1 159.9,79.5 C160.0,78.8 160.1,78.2 160.2,77.5 C160.3,76.8 160.4,76.2 160.5,75.5 C160.6,74.8 160.7,74.2 160.8,73.5 C160.9,72.8 161.1,72.2 161.2,71.5 C161.3,70.8 161.4,70.2 161.5,69.5 C161.6,68.8 161.7,68.2 161.8,67.5 C161.9,66.8 161.9,66.2 162.1,65.5 C162.3,64.8 162.5,64.2 162.7,63.5 C162.9,62.8 163.1,62.2 163.3,61.5 C163.5,60.8 163.7,60.2 163.9,59.5 C164.1,58.8 164.3,58.2 164.5,57.5 C164.7,56.8 165.0,56.2 165.3,55.5 C165.6,54.8 165.8,54.1 166.1,53.5 C166.4,52.8 166.6,52.1 166.9,51.4 C167.2,50.7 167.4,50.0 167.7,49.4 C168.0,48.8 168.5,48.3 168.9,47.8 C169.3,47.3 169.7,46.7 170.1,46.2 C170.5,45.7 170.9,44.7 171.3,44.6 C171.7,44.5 172.1,45.3 172.5,45.7 C172.9,46.0 173.3,46.4 173.7,46.7 C174.1,47.1 174.6,47.4 174.9,47.8 C175.3,48.4 175.5,49.1 175.7,49.7 C176.0,50.3 176.3,51.0 176.6,51.6 C176.8,52.2 177.2,52.8 177.4,53.5 C177.6,54.1 177.7,54.8 177.9,55.5 C178.1,56.2 178.2,56.8 178.4,57.5 C178.6,58.2 178.7,58.8 178.9,59.5 C179.1,60.2 179.3,60.8 179.4,61.5 C179.5,62.1 179.6,62.8 179.8,63.4 C179.9,64.1 180.0,64.7 180.1,65.3 C180.2,66.0 180.4,66.6 180.5,67.3 C180.6,67.9 180.7,68.5 180.8,69.2 C181.0,69.8 181.1,70.5 181.2,71.1 C181.3,71.8 181.3,72.4 181.4,73.1 C181.4,73.7 181.5,74.4 181.6,75.1 C181.6,75.7 181.7,76.4 181.8,77.1 C181.8,77.7 181.9,78.4 181.9,79.0 C182.0,79.7 182.1,80.4 182.1,81.0 C182.2,81.7 182.3,82.4 182.3,83.0 C182.4,83.7 182.4,84.3 182.5,85.0 C182.6,85.7 182.7,86.3 182.7,87.0 C182.8,87.7 182.9,88.3 182.9,89.0 C183.0,89.7 183.1,90.3 183.2,91.0 C183.2,91.7 183.3,92.3 183.4,93.0 C183.5,93.7 183.6,94.3 183.6,95.0 C183.7,95.7 183.8,96.3 183.9,97.0 C183.9,97.7 184.0,98.3 184.1,99.0 C184.2,99.7 184.2,100.3 184.3,101.0 C184.4,101.7 184.5,102.3 184.5,103.0 C184.6,103.7 184.7,104.3 184.8,105.0 C184.9,105.7 184.9,106.3 185.0,107.0 C185.1,107.7 185.2,108.3 185.2,109.0 C185.3,109.7 185.4,110.3 185.5,111.0 C185.6,111.7 185.6,112.3 185.7,113.0 C185.8,113.7 185.9,114.3 186.0,115.0 C186.0,115.7 186.1,116.3 186.2,117.0 C186.3,117.7 186.3,118.3 186.4,119.0 C186.5,119.7 186.5,120.3 186.6,121.0 C186.6,121.7 186.7,122.3 186.8,123.0 C186.8,123.7 186.9,124.3 187.0,125.0 C187.0,125.7 187.1,126.3 187.1,127.0 C187.2,127.7 187.3,128.3 187.3,129.0 C187.4,129.7 187.5,130.3 187.5,131.0 C187.6,131.7 187.6,132.3 187.7,133.0 C187.8,133.7 187.8,134.3 187.9,135.0 C188.0,135.6 188.1,136.3 188.2,136.9 C188.3,137.6 188.4,138.2 188.5,138.9 C188.6,139.5 188.7,140.1 188.8,140.8 C188.9,141.4 188.9,142.1 189.0,142.7 C189.1,143.4 189.2,144.0 189.3,144.6 C189.4,145.3 189.5,145.9 189.6,146.6 C189.7,147.2 189.8,147.9 189.9,148.5 C190.0,149.2 190.0,149.8 190.1,150.5 C190.2,151.2 190.3,151.9 190.3,152.5 C190.4,153.2 190.5,153.9 190.5,154.5 C190.6,155.2 190.7,155.9 190.7,156.5 C190.8,157.2 190.9,157.9 191.0,158.6 C191.0,159.2 191.1,159.9 191.2,160.6 C191.2,161.2 191.3,161.9 191.4,162.6 C191.4,163.2 191.5,163.9 191.6,164.6 C191.7,165.3 191.7,165.9 191.8,166.6 C191.9,167.2 191.9,167.9 192.0,168.5 C192.0,169.2 192.1,169.8 192.2,170.4 C192.2,171.1 192.3,171.7 192.4,172.3 C192.4,173.0 192.5,173.6 192.5,174.3 C192.6,174.9 192.7,175.5 192.7,176.2 C192.8,176.8 192.9,177.4 192.9,178.1 C193.0,178.7 193.1,179.4 193.1,180.0 C193.2,180.7 193.2,181.3 193.2,182.0 C193.3,182.7 193.3,183.3 193.3,184.0 C193.4,184.7 193.4,185.3 193.4,186.0 C193.5,186.7 193.5,187.3 193.6,188.0 C193.6,188.7 193.6,189.3 193.7,190.0 C193.7,190.7 193.7,191.3 193.8,192.0 C193.9,192.7 194.0,193.3 194.1,194.0 C194.1,194.7 194.2,195.3 194.3,196.0 C194.4,196.7 194.5,197.3 194.6,198.0 C194.6,198.7 194.7,199.3 194.8,200.0 C194.9,200.7 195.0,201.3 195.1,202.0 C195.1,202.7 195.2,203.3 195.3,204.0 C195.4,204.7 195.5,205.3 195.6,206.0 C195.6,206.7 195.7,207.3 195.8,208.0 C195.9,208.7 196.0,209.3 196.1,210.0 C196.1,210.7 196.2,211.3 196.3,212.0 C196.4,212.7 196.4,213.4 196.5,214.2 C196.6,214.9 196.7,215.6 196.7,216.3 C196.8,217.1 196.9,217.8 196.9,218.5 C197.0,219.2 197.1,219.9 197.2,220.7 C197.2,221.4 197.3,222.1 197.4,222.8 C197.5,223.6 197.5,224.3 197.6,225.0 C197.7,225.6 197.7,226.2 197.8,226.8 C197.8,227.3 197.9,227.9 197.9,228.5 C198.0,229.1 198.1,229.7 198.1,230.2 C198.2,230.8 198.2,231.4 198.3,232.0 C198.4,232.7 198.5,233.4 198.6,234.1 C198.6,234.8 198.7,235.5 198.8,236.2 C198.9,236.9 199.0,237.6 199.1,238.3 C199.1,239.0 199.2,239.7 199.3,240.4 C199.4,241.1 199.5,241.8 199.6,242.5 C199.6,243.2 199.7,243.9 199.8,244.6 C199.9,245.3 200.0,246.0 200.1,246.7 C200.1,247.4 200.2,248.1 200.3,248.8 C200.4,249.5 200.5,250.2 200.6,250.9 C200.6,251.6 200.7,252.3 200.8,253.0 C200.9,253.7 201.0,254.3 201.1,255.0 C201.2,255.7 201.3,256.3 201.4,257.0 C201.5,257.7 201.6,258.3 201.7,259.0 C201.7,259.7 201.8,260.3 201.9,261.0 C202.0,261.7 202.1,262.3 202.2,263.0 C202.3,263.7 202.4,264.3 202.5,265.0 C202.6,265.7 202.7,266.3 202.8,267.0 C202.9,267.7 203.0,268.3 203.1,269.0 C203.2,269.7 203.3,270.3 203.3,271.0 C203.4,271.7 203.5,272.3 203.6,273.0 C203.7,273.7 203.8,274.3 203.9,275.0 C204.0,275.7 204.1,276.3 204.2,277.0 C204.3,277.7 204.5,278.3 204.7,279.0 C204.8,279.7 205.0,280.3 205.1,281.0 C205.3,281.7 205.4,282.3 205.6,283.0 C205.8,283.6 206.0,284.2 206.2,284.8 C206.4,285.3 206.6,285.9 206.8,286.5 C207.0,287.1 207.2,287.7 207.4,288.2 C207.6,288.8 207.8,289.4 208.0,290.0 C208.2,290.7 208.3,291.3 208.5,292.0 C208.7,292.7 208.8,293.4 209.0,294.0 C209.2,294.7 209.3,295.4 209.5,296.1 C209.7,296.7 209.8,297.4 210.0,298.1 C210.2,298.7 210.3,299.4 210.5,300.1 C210.7,300.8 210.8,301.4 211.0,302.1 C211.2,302.8 211.5,303.4 211.7,304.1 C211.9,304.8 212.1,305.4 212.4,306.1 C212.6,306.8 212.8,307.4 213.1,308.1 C213.3,308.8 213.5,309.4 213.7,310.1 C214.0,310.8 214.2,311.4 214.4,312.1 C214.6,312.8 214.8,313.5 215.1,314.1 C215.4,314.7 215.8,315.3 216.1,315.9 C216.4,316.5 216.8,317.1 217.1,317.7 C217.4,318.3 217.8,319.0 218.1,319.6 C218.4,320.2 218.8,320.8 219.1,321.4 C219.4,322.0 219.7,322.6 220.1,323.2 C220.4,323.7 220.9,324.1 221.3,324.6 C221.7,325.1 222.0,325.6 222.4,326.0 C222.8,326.5 223.2,327.0 223.6,327.4 C224.0,327.9 224.4,328.4 224.8,328.9 C225.2,329.3 225.5,329.8 225.9,330.3 C226.3,330.8 226.7,331.2 227.1,331.7 C227.5,332.1 227.8,332.5 228.2,332.9 C228.6,333.3 228.9,333.7 229.3,334.1 C229.7,334.6 230.1,335.0 230.5,335.5 C230.9,336.0 231.3,336.4 231.7,336.9 C232.1,337.4 232.5,337.8 232.9,338.3 C233.3,338.8 233.7,339.2 234.1,339.7 C234.5,340.2 234.9,340.6 235.3,341.1 C235.7,341.6 236.1,342.1 236.5,342.5 C236.9,342.9 237.5,343.3 237.9,343.7 C238.4,344.1 238.9,344.5 239.4,344.9 C239.9,345.3 240.3,345.7 240.8,346.1 C241.3,346.5 241.8,346.9 242.3,347.3 C242.7,347.7 243.2,348.2 243.7,348.5 C244.3,348.8 244.9,349.0 245.5,349.2 C246.1,349.5 246.7,349.8 247.3,350.0 C247.9,350.2 248.5,350.5 249.1,350.8 C249.7,351.0 250.3,351.4 250.9,351.5 C251.6,351.6 252.3,351.4 252.9,351.3 C253.6,351.3 254.3,351.2 255.0,351.2 C255.6,351.1 256.3,351.1 257.0,351.0 C257.6,350.9 258.2,350.8 258.8,350.6 C259.3,350.5 260.0,350.2 260.5,350.3 C261.1,350.4 261.6,351.0 262.1,351.3 C262.7,351.6 263.2,352.0 263.8,352.3 C264.3,352.6 264.9,352.9 265.4,353.3 C265.9,353.7 266.4,354.3 266.9,354.8 C267.4,355.3 267.9,355.8 268.4,356.3 C268.9,356.8 269.4,357.3 269.9,357.8 C270.4,358.3 270.9,358.8 271.4,359.3 C271.9,359.7 272.4,360.1 272.9,360.5 C273.4,360.9 273.9,361.3 274.4,361.8 C274.9,362.2 275.4,362.6 275.9,363.0 C276.4,363.4 276.9,364.2 277.4,364.2 C277.9,364.2 278.5,363.4 279.0,363.0 C279.5,362.6 280.1,362.1 280.6,361.7 C281.1,361.3 281.8,361.0 282.2,360.5 C282.6,360.0 282.8,359.2 283.2,358.6 C283.5,357.9 283.8,357.3 284.1,356.7 C284.4,356.0 284.8,355.4 285.1,354.7 C285.4,354.1 285.7,353.5 286.0,352.8 C286.4,352.2 286.7,351.5 287.0,350.9 C287.3,350.2 287.6,349.6 287.9,348.9 C288.2,348.3 288.5,347.6 288.8,346.9 C289.0,346.3 289.3,345.6 289.6,345.0 C289.9,344.3 290.2,343.7 290.5,343.0 C290.7,342.4 290.9,341.8 291.2,341.3 C291.4,340.7 291.6,340.1 291.8,339.5 C292.1,339.0 292.3,338.4 292.5,337.8 C292.7,337.2 292.9,336.6 293.2,336.1 C293.4,335.5 293.6,334.9 293.8,334.3 C294.1,333.8 294.3,333.2 294.5,332.6 C294.8,332.0 295.0,331.3 295.3,330.7 C295.5,330.0 295.8,329.4 296.0,328.7 C296.3,328.1 296.5,327.4 296.8,326.8 C297.0,326.1 297.3,325.5 297.5,324.8 C297.8,324.2 298.0,323.5 298.3,322.9 C298.5,322.2 298.8,321.6 299.0,320.9 C299.3,320.3 299.5,319.6 299.8,319.0 C300.1,318.4 300.6,317.8 300.9,317.2 C301.3,316.6 301.7,316.0 302.1,315.4 C302.5,314.8 302.9,314.2 303.2,313.6 C303.6,313.0 303.9,312.3 304.4,311.8 C304.8,311.4 305.5,311.2 306.1,310.9 C306.6,310.6 307.2,310.3 307.8,310.0 C308.3,309.7 308.9,309.4 309.4,309.1 C310.0,308.8 310.5,308.3 311.1,308.2 C311.6,308.2 312.2,308.6 312.8,308.8 C313.3,309.0 313.8,309.2 314.4,309.4 C314.9,309.6 315.5,309.8 316.1,310.0 C316.6,310.2 317.2,310.3 317.7,310.6 C318.2,310.9 318.7,311.3 319.2,311.7 C319.7,312.0 320.2,312.4 320.7,312.8 C321.2,313.1 321.7,313.5 322.2,313.8 C322.7,314.2 323.3,314.5 323.7,314.9 C324.2,315.4 324.5,315.9 324.9,316.5 C325.3,317.0 325.7,317.5 326.1,318.0 C326.5,318.5 326.9,319.1 327.3,319.6 C327.7,320.1 328.1,320.6 328.5,321.1 C328.9,321.7 329.3,322.2 329.7,322.7 C330.1,323.2 330.5,323.7 330.9,324.1 C331.3,324.6 331.7,325.1 332.1,325.6 C332.5,326.1 332.9,326.5 333.3,327.0 C333.7,327.5 334.1,328.0 334.5,328.5 C334.9,328.9 335.3,329.4 335.7,329.9 C336.1,330.4 336.5,331.0 336.9,331.6 C337.3,332.1 337.7,332.7 338.1,333.3 C338.5,333.8 338.9,334.4 339.3,334.9 C339.7,335.5 340.1,336.1 340.5,336.6 C340.9,337.2 341.3,337.7 341.7,338.3 C342.1,338.8 342.4,339.4 342.7,339.9 C343.1,340.5 343.4,341.0 343.7,341.5 C344.1,342.1 344.4,342.6 344.8,343.1 C345.1,343.7 345.4,344.2 345.8,344.8 C346.1,345.3 346.4,345.8 346.8,346.4 C347.1,346.9 347.4,347.5 347.8,348.0 C348.2,348.5 348.8,349.0 349.3,349.5 C349.8,350.0 350.3,350.5 350.8,351.0 C351.3,351.5 351.8,351.9 352.3,352.4 C352.8,352.9 353.4,353.5 353.8,354.2 C354.3,354.8 354.5,355.8 355.0,356.3 C355.3,356.5 355.9,356.1 356.2,356.3 C356.7,356.6 356.9,357.4 357.4,357.6 C357.8,357.8 358.5,357.7 359.0,357.4 C359.6,357.1 360.0,356.2 360.6,356.0 C361.1,355.8 361.7,356.6 362.2,356.4 C362.7,356.3 363.0,355.6 363.4,355.1 C363.8,354.7 364.3,354.4 364.6,354.0 C365.1,352.9 365.2,351.5 365.8,350.5 C366.1,350.1 367.0,350.2 367.4,349.9 C368.0,349.4 368.4,348.3 369.0,348.1 C369.5,348.0 370.0,348.6 370.6,348.8 C371.2,349.0 371.8,349.2 372.4,349.1 C373.0,349.0 373.7,348.0 374.2,348.0 C374.6,348.0 374.7,349.2 375.0,349.2 C375.3,349.2 375.6,348.4 375.8,347.9 C376.1,347.3 376.1,346.3 376.6,345.9 C376.9,345.6 377.7,346.0 378.2,345.8 C378.8,345.6 379.3,344.9 379.9,344.6 C380.4,344.4 381.0,344.2 381.5,344.2 C382.1,344.3 382.8,345.1 383.3,345.0 C384.0,344.8 384.6,343.8 385.1,343.2 C385.4,342.7 385.6,342.1 385.8,341.6 C386.1,341.0 386.3,340.4 386.5,339.8 C386.8,339.0 386.9,338.1 387.3,337.3 C387.4,337.0 387.8,336.8 388.0,336.5 C388.3,335.9 388.3,335.0 388.7,334.5 C388.9,334.3 389.6,334.6 389.9,334.4 C390.4,333.9 390.6,332.9 391.1,332.3 C391.4,332.0 392.0,331.8 392.3,331.5 C392.8,331.0 393.1,330.5 393.5,329.9 C393.8,329.4 394.1,328.9 394.3,328.3 C394.6,327.5 394.8,326.6 395.1,325.8 C395.4,325.0 395.4,323.6 395.9,323.3 C396.2,323.1 396.9,324.2 397.4,324.2 C398.0,324.2 398.5,323.3 399.0,323.2 C399.4,323.1 399.7,323.6 400.1,323.9 C400.4,324.1 400.7,324.4 401.1,324.6 C401.5,324.7 401.9,324.7 402.2,324.6 C402.7,324.5 403.3,324.1 403.8,324.0 C404.3,323.9 405.1,324.1 405.4,323.8 C405.8,323.2 405.6,322.0 405.9,321.3 C406.0,321.2 406.4,321.4 406.5,321.3 C406.8,320.5 406.6,319.2 407.0,318.4 C407.2,318.1 407.9,318.3 408.1,318.0 C408.6,317.2 408.6,315.9 409.1,315.2 C409.3,314.9 409.9,315.0 410.2,315.1 C410.8,315.2 411.3,315.9 411.8,315.9 C412.4,315.8 413.0,314.7 413.5,314.7 C414.0,314.8 414.5,316.0 415.1,316.3 C415.3,316.5 415.8,316.5 415.9,316.2 C416.3,315.4 416.3,314.1 416.7,313.2 C416.8,312.9 417.4,312.9 417.5,312.6 C417.9,311.5 418.0,310.3 418.3,309.2 C418.5,308.2 418.6,306.6 419.1,306.4 C419.5,306.2 420.4,307.5 421.1,307.8 C421.7,308.1 422.5,308.4 423.1,308.2 C423.9,308.0 424.4,307.0 425.1,306.5 C425.7,306.1 426.6,306.1 427.1,305.6 C427.5,305.3 427.6,304.6 427.9,304.2 C428.1,304.0 428.6,304.1 428.7,303.9 C429.1,303.1 429.3,302.2 429.5,301.3 C429.8,300.1 429.8,298.0 430.3,297.6 C430.6,297.3 431.3,298.7 431.9,299.2 C432.4,299.6 433.1,299.7 433.5,300.1 C433.9,300.4 434.1,301.0 434.3,301.6 C434.7,302.7 434.7,304.1 435.1,305.1 C435.2,305.3 435.8,304.9 435.9,305.1 C436.3,305.8 436.3,306.9 436.6,307.8 C436.7,308.3 437.0,308.8 437.2,309.2 C437.4,309.6 437.8,309.9 437.9,310.3 C438.2,311.3 438.2,312.5 438.6,313.4 C438.6,313.6 439.2,313.4 439.2,313.6 C439.6,314.5 439.6,316.7 439.9,316.7 C440.1,316.7 440.3,314.6 440.7,313.7 C440.9,313.4 441.4,313.2 441.5,312.9 C441.9,312.2 442.1,311.4 442.4,310.8 C442.6,310.2 442.9,309.2 443.2,309.3 C443.7,309.5 444.1,311.1 444.8,311.5 C445.2,311.8 446.1,311.8 446.4,311.5 C447.0,310.8 446.9,309.3 447.5,308.6 C447.6,308.3 448.4,308.8 448.5,308.5 C449.1,307.6 449.1,305.5 449.6,305.1 C449.9,304.9 450.5,306.1 450.9,306.7 C451.4,307.4 451.7,308.4 452.3,309.0 C452.6,309.3 453.2,309.3 453.6,309.5 C453.9,309.6 454.3,309.8 454.4,310.1 C454.8,311.4 454.7,313.2 455.2,314.4 C455.3,314.6 455.9,314.2 456.0,314.4 C456.4,314.9 456.4,316.1 456.8,316.5 C457.0,316.6 457.5,316.3 457.6,316.0 C458.0,315.2 458.1,314.1 458.4,313.1 C458.6,312.5 459.0,311.9 459.2,311.3 C459.5,310.5 459.7,309.7 460.0,309.0 C460.2,308.4 460.4,307.7 460.8,307.2 C461.0,307.0 461.5,307.3 461.6,307.1 C462.0,306.4 462.0,305.4 462.4,304.7 C462.5,304.5 463.0,304.5 463.2,304.2 C463.6,303.6 463.5,302.5 464.0,302.2 C464.5,301.9 465.5,302.1 466.1,302.4 C466.9,302.7 467.6,303.2 468.3,303.7 C468.5,303.8 468.8,304.0 468.9,304.3 C469.1,304.9 469.3,305.6 469.4,306.3 C469.7,307.1 469.7,308.1 470.0,308.9 C470.1,309.0 470.5,308.7 470.6,308.9 C470.9,309.3 471.0,310.0 471.2,310.6 C471.4,311.8 471.5,313.1 471.7,314.4 C471.8,314.9 472.0,315.6 472.3,315.9 C472.6,316.2 473.2,315.8 473.6,316.0 C474.1,316.3 474.5,316.9 474.8,317.4 C475.4,318.4 475.6,320.0 476.1,320.4 C476.3,320.6 476.9,319.7 477.1,319.3 C477.5,318.2 477.5,316.6 478.0,315.7 C478.1,315.5 478.7,316.2 478.9,316.0 C479.4,315.7 479.4,314.5 479.9,314.2 C480.2,314.0 480.8,314.3 481.2,314.4 C481.6,314.5 482.0,314.8 482.4,314.9 C482.8,315.0 483.3,315.1 483.7,315.0 C484.3,314.8 484.7,313.8 485.2,313.9 C485.8,313.9 486.3,315.5 486.7,315.3 C487.4,315.0 487.6,313.1 488.3,312.5 C488.6,312.2 489.4,313.0 489.8,312.8 C490.4,312.4 491.0,310.5 491.3,310.7 C491.7,310.9 491.7,313.0 492.1,314.0 C492.2,314.5 492.6,314.9 492.8,315.4 C493.1,315.7 493.4,316.1 493.6,316.5 C493.9,317.0 494.2,317.5 494.3,318.1 C494.7,319.1 494.7,320.4 495.1,321.4 C495.2,321.6 495.7,321.4 495.9,321.6 C496.2,322.2 496.4,323.1 496.6,323.9 C496.9,324.8 497.1,325.7 497.4,326.6 C497.6,327.5 497.8,328.4 498.1,329.2 C498.3,329.7 498.7,330.6 498.9,330.5 C499.2,330.2 499.2,328.6 499.6,328.0 C499.7,327.8 500.2,328.2 500.3,328.0 C500.7,327.0 500.7,325.6 501.0,324.5 C501.2,323.8 501.5,323.0 501.7,322.3 C501.9,321.9 502.1,321.4 502.3,320.9 C502.5,320.4 502.7,319.9 502.8,319.3 C503.1,318.3 503.1,317.2 503.4,316.2 C503.5,315.6 503.7,315.0 503.9,314.4 C504.1,313.9 504.2,313.3 504.5,312.9 C504.8,312.4 505.5,312.2 505.8,311.8 C506.3,311.0 506.5,309.9 507.0,309.0 C507.3,308.6 507.8,308.1 508.3,308.0 C508.8,307.9 509.4,308.5 509.9,308.5 C510.4,308.4 511.0,308.1 511.5,307.8 C512.1,307.3 512.5,306.5 513.1,306.0 C513.6,305.6 514.4,305.5 515.0,305.1 C515.7,304.8 516.5,304.5 516.9,303.9 C517.4,303.2 517.5,302.1 517.8,301.2 C518.1,300.6 518.4,300.0 518.8,299.4 C519.1,298.8 519.3,297.9 519.7,297.7 C519.9,297.6 520.4,298.6 520.7,298.4 C521.1,298.0 521.2,296.9 521.6,296.2 C521.8,295.8 522.4,295.6 522.5,295.2 C523.0,293.9 522.9,291.9 523.5,291.1 C523.7,290.7 524.6,291.8 525.1,291.7 C525.6,291.6 526.0,290.7 526.6,290.4 C527.1,290.2 527.9,290.5 528.2,290.1 C528.7,289.5 528.7,288.0 529.2,287.4 C529.3,287.2 530.0,287.8 530.1,287.6 C530.7,286.6 530.6,284.8 531.1,283.6 C531.2,283.3 531.8,283.2 532.0,283.0 C532.4,282.6 532.7,282.1 533.0,281.6" fill="none" stroke="#000000" stroke-width="3.9" stroke-linecap="round" stroke-linejoin="round"/>
<path d="M113.0,288.0 C113.4,287.7 113.9,287.3 114.3,287.0 C114.8,286.7 115.2,286.3 115.7,286.0 C116.1,285.7 116.7,285.4 117.0,285.0 C117.4,284.5 117.5,283.8 117.7,283.2 C117.9,282.6 118.1,282.0 118.4,281.4 C118.6,280.8 118.8,280.2 119.1,279.6 C119.3,279.0 119.5,278.3 119.7,277.7 C120.0,277.1 120.2,276.5 120.4,275.9 C120.7,275.3 120.9,274.7 121.1,274.1 C121.3,273.5 121.5,272.9 121.8,272.3 C122.1,271.8 122.5,271.5 122.9,271.0 C123.2,270.6 123.6,270.2 123.9,269.8 C124.3,269.3 124.6,268.9 125.0,268.5 C125.4,268.1 125.9,267.9 126.3,267.6 C126.8,267.3 127.4,266.6 127.7,266.7 C128.1,266.9 128.3,267.9 128.6,268.5 C128.9,269.1 129.3,269.6 129.6,270.2 C129.9,270.8 130.2,271.4 130.5,272.0 C130.7,272.6 130.9,273.2 131.1,273.8 C131.3,274.3 131.5,274.9 131.7,275.5 C131.9,276.1 132.1,276.7 132.2,277.2 C132.4,277.8 132.6,278.4 132.8,279.0 C133.0,279.6 133.2,280.2 133.4,280.8 C133.6,281.3 133.9,281.9 134.0,282.5 C134.2,283.2 134.2,283.9 134.3,284.6 C134.4,285.3 134.4,286.0 134.5,286.7 C134.6,287.4 134.7,288.1 134.8,288.8 C134.9,289.4 135.0,290.1 135.1,290.8 C135.2,291.5 135.2,292.2 135.3,292.9 C135.4,293.6 135.5,294.3 135.6,295.0 C135.7,295.6 135.7,296.2 135.8,296.8 C135.9,297.4 135.9,298.0 136.0,298.6 C136.1,299.2 136.1,299.8 136.2,300.4 C136.3,301.0 136.3,301.6 136.4,302.2 C136.5,302.8 136.5,303.4 136.6,304.0 C136.7,304.7 136.7,305.4 136.8,306.1 C136.9,306.9 136.9,307.6 137.0,308.3 C137.1,309.0 137.1,309.7 137.2,310.4 C137.3,311.1 137.3,311.9 137.4,312.6 C137.5,313.3 137.5,314.0 137.6,314.7 C137.7,315.4 137.7,316.1 137.8,316.9 C137.9,317.6 137.9,318.3 138.0,319.0 C138.1,319.7 138.1,320.3 138.2,321.0 C138.3,321.6 138.3,322.3 138.4,322.9 C138.5,323.6 138.5,324.2 138.6,324.9 C138.7,325.5 138.7,326.2 138.8,326.9 C138.9,327.5 138.9,328.2 139.0,328.8 C139.1,329.5 139.1,330.1 139.2,330.8 C139.3,331.4 139.3,332.1 139.4,332.7 C139.5,333.4 139.5,334.0 139.6,334.7 C139.7,335.3 139.8,335.9 139.9,336.5 C140.0,337.1 140.1,337.6 140.2,338.2 C140.3,338.8 140.4,339.4 140.5,340.0 C140.6,340.7 140.6,341.4 140.7,342.1 C140.7,342.7 140.8,343.4 140.8,344.1 C140.9,344.8 140.9,345.5 141.0,346.1 C141.0,346.8 141.1,347.5 141.1,348.2 C141.2,348.9 141.2,349.6 141.3,350.2 C141.4,350.9 141.4,351.6 141.5,352.3 C141.5,353.0 141.6,353.7 141.6,354.4 C141.7,355.0 141.7,355.7 141.8,356.4 C141.8,357.1 141.9,357.8 141.9,358.4 C142.0,359.1 142.0,359.8 142.1,360.5 C142.2,361.2 142.2,361.9 142.3,362.6 C142.3,363.3 142.4,364.0 142.5,364.7 C142.5,365.4 142.6,366.1 142.6,366.8 C142.7,367.5 142.8,368.2 142.8,368.9 C142.9,369.6 142.9,370.4 143.0,371.1 C143.0,371.8 143.1,372.5 143.2,373.2 C143.2,373.9 143.3,374.6 143.3,375.3 C143.4,376.0 143.5,376.7 143.5,377.4 C143.6,378.1 143.6,378.8 143.7,379.5 C143.8,380.2 143.9,380.8 143.9,381.5 C144.0,382.1 144.1,382.8 144.2,383.4 C144.3,384.1 144.3,384.8 144.4,385.4 C144.5,386.1 144.6,386.7 144.6,387.4 C144.7,388.1 144.8,388.7 144.9,389.4 C145.0,390.0 145.0,390.7 145.1,391.4 C145.2,392.0 145.3,392.7 145.4,393.3 C145.4,394.0 145.5,394.6 145.6,395.3 C145.7,396.0 145.8,396.7 145.9,397.4 C146.0,398.1 146.1,398.8 146.2,399.5 C146.3,400.2 146.4,400.9 146.5,401.6 C146.6,402.3 146.7,403.0 146.8,403.7 C146.9,404.4 147.1,405.1 147.2,405.8 C147.3,406.5 147.4,407.2 147.5,407.9 C147.6,408.6 147.7,409.3 147.8,410.0 C147.9,410.7 148.0,411.4 148.1,412.1 C148.2,412.8 148.3,413.5 148.4,414.2 C148.5,414.9 148.7,415.6 148.8,416.3 C148.9,417.1 149.0,417.8 149.2,418.5 C149.3,419.2 149.4,419.9 149.5,420.6 C149.7,421.3 149.8,422.1 149.9,422.8 C150.0,423.5 150.2,424.2 150.3,424.9 C150.4,425.6 150.5,426.4 150.7,427.1 C150.8,427.8 150.9,428.5 151.0,429.2 C151.2,429.9 151.3,430.6 151.4,431.4 C151.5,432.1 151.7,432.8 151.8,433.5 C151.9,434.2 152.1,434.9 152.2,435.6 C152.3,436.3 152.4,436.9 152.6,437.6 C152.7,438.3 152.8,439.0 153.0,439.7 C153.1,440.4 153.2,441.1 153.4,441.8 C153.5,442.5 153.6,443.1 153.7,443.8 C153.9,444.5 154.0,445.2 154.1,445.9 C154.3,446.6 154.4,447.3 154.5,448.0 C154.7,448.7 154.8,449.3 154.9,450.0 C155.0,450.7 155.2,451.4 155.3,452.1 C155.4,452.8 155.6,453.4 155.7,454.1 C155.8,454.8 156.0,455.4 156.1,456.1 C156.2,456.7 156.4,457.4 156.5,458.1 C156.6,458.7 156.8,459.4 156.9,460.1 C157.0,460.7 157.2,461.4 157.3,462.0 C157.4,462.7 157.6,463.4 157.7,464.0 C157.8,464.7 158.0,465.3 158.1,466.0 C158.2,466.7 158.4,467.3 158.5,468.0 C158.6,468.7 158.7,469.3 158.8,470.0 C158.9,470.6 159.0,471.3 159.1,471.9 C159.2,472.6 159.3,473.3 159.4,473.9 C159.5,474.6 159.6,475.2 159.7,475.9 C159.7,476.6 159.8,477.2 159.9,477.9 C160.0,478.5 160.1,479.2 160.2,479.9 C160.3,480.5 160.4,481.2 160.5,481.8 C160.6,482.5 160.7,483.1 160.8,483.8 C160.9,484.5 161.2,485.2 161.3,485.9 C161.5,486.6 161.7,487.3 161.9,488.0 C162.0,488.7 162.2,489.4 162.4,490.1 C162.6,490.8 162.8,491.5 162.9,492.2 C163.1,492.9 163.3,493.6 163.5,494.3 C163.6,495.0 163.8,495.7 164.0,496.4 C164.2,497.1 164.4,497.7 164.6,498.3 C164.7,499.0 164.9,499.6 165.1,500.3 C165.3,500.9 165.5,501.6 165.7,502.2 C165.9,502.9 166.0,503.5 166.2,504.2 C166.4,504.8 166.6,505.5 166.8,506.1 C167.0,506.8 167.2,507.4 167.3,508.1 C167.5,508.7 167.7,509.4 167.9,510.0 C168.1,510.6 168.4,511.2 168.7,511.8 C169.0,512.4 169.2,513.0 169.5,513.6 C169.8,514.2 170.0,515.4 170.3,515.4 C170.6,515.4 170.8,514.3 171.1,513.8 C171.4,513.3 171.6,512.7 171.9,512.2 C172.2,511.7 172.4,511.1 172.7,510.6 C173.0,510.1 173.3,509.6 173.5,509.0 C173.7,508.4 173.9,507.7 174.1,507.0 C174.3,506.4 174.5,505.7 174.7,505.1 C174.9,504.4 175.1,503.7 175.3,503.1 C175.5,502.4 175.7,501.8 175.8,501.1 C176.0,500.4 176.2,499.8 176.4,499.1 C176.6,498.5 176.8,497.8 177.0,497.1 C177.2,496.5 177.4,495.8 177.6,495.2 C177.8,494.5 178.0,493.9 178.2,493.2 C178.3,492.6 178.4,491.9 178.5,491.2 C178.6,490.6 178.7,489.9 178.8,489.2 C178.9,488.6 179.0,487.9 179.1,487.3 C179.2,486.6 179.3,486.0 179.4,485.3 C179.5,484.6 179.6,484.0 179.7,483.3 C179.8,482.7 179.9,482.0 180.0,481.3 C180.1,480.7 180.2,480.0 180.3,479.4 C180.4,478.7 180.5,478.1 180.6,477.4 C180.7,476.7 180.9,476.0 181.0,475.3 C181.1,474.6 181.3,473.9 181.4,473.2 C181.5,472.5 181.7,471.8 181.8,471.1 C181.9,470.4 182.1,469.7 182.2,469.0 C182.3,468.3 182.5,467.6 182.6,466.9 C182.7,466.2 182.9,465.5 183.0,464.8 C183.1,464.1 183.1,463.5 183.2,462.8 C183.2,462.2 183.3,461.5 183.4,460.9 C183.4,460.2 183.5,459.5 183.6,458.9 C183.6,458.2 183.7,457.6 183.8,456.9 C183.8,456.2 183.9,455.6 183.9,454.9 C184.0,454.3 184.1,453.6 184.1,452.9 C184.2,452.3 184.2,451.6 184.3,451.0 C184.4,450.3 184.4,449.7 184.5,449.0 C184.6,448.4 184.7,447.7 184.7,447.1 C184.8,446.4 184.9,445.8 184.9,445.1 C185.0,444.5 185.1,443.8 185.2,443.2 C185.2,442.5 185.3,441.9 185.4,441.2 C185.5,440.6 185.6,440.0 185.6,439.3 C185.7,438.7 185.8,438.0 185.9,437.4 C185.9,436.7 186.0,436.1 186.1,435.4 C186.2,434.8 186.2,434.1 186.3,433.5 C186.4,432.8 186.5,432.1 186.5,431.3 C186.6,430.6 186.7,429.9 186.8,429.2 C186.8,428.4 186.9,427.7 187.0,427.0 C187.1,426.3 187.1,425.6 187.2,424.8 C187.3,424.1 187.4,423.4 187.4,422.7 C187.5,422.0 187.6,421.2 187.7,420.5 C187.7,419.8 187.8,419.1 187.9,418.4 C188.0,417.6 188.1,416.9 188.1,416.2 C188.2,415.5 188.3,414.7 188.4,414.0 C188.4,413.3 188.5,412.6 188.6,411.9 C188.7,411.1 188.7,410.4 188.8,409.7 C188.9,409.0 189.0,408.2 189.0,407.5 C189.1,406.8 189.2,406.1 189.3,405.4 C189.3,404.6 189.4,403.9 189.5,403.2 C189.6,402.5 189.7,401.8 189.7,401.1 C189.8,400.5 189.9,399.8 190.0,399.1 C190.0,398.4 190.1,397.7 190.2,397.0 C190.3,396.3 190.3,395.6 190.4,395.0 C190.5,394.3 190.6,393.6 190.7,392.9 C190.7,392.2 190.8,391.5 190.9,390.8 C191.0,390.2 191.0,389.5 191.1,388.8 C191.2,388.1 191.3,387.4 191.3,386.7 C191.4,386.0 191.5,385.3 191.6,384.7 C191.6,384.0 191.7,383.3 191.8,382.6 C191.9,381.9 191.9,381.3 192.0,380.6 C192.1,379.9 192.2,379.3 192.2,378.6 C192.3,377.9 192.4,377.2 192.5,376.6 C192.5,375.9 192.6,375.2 192.7,374.6 C192.7,373.9 192.8,373.2 192.9,372.6 C193.0,371.9 193.0,371.2 193.1,370.5 C193.2,369.9 193.3,369.2 193.3,368.5 C193.4,367.9 193.5,367.2 193.5,366.5 C193.6,365.9 193.7,365.2 193.8,364.5 C193.8,363.8 193.9,363.2 194.0,362.5 C194.1,361.8 194.1,361.2 194.2,360.5 C194.3,359.8 194.4,359.1 194.4,358.4 C194.5,357.8 194.6,357.1 194.7,356.4 C194.8,355.7 194.8,355.0 194.9,354.4 C195.0,353.7 195.1,353.0 195.2,352.3 C195.2,351.6 195.3,350.9 195.4,350.2 C195.5,349.6 195.6,348.9 195.6,348.2 C195.7,347.5 195.8,346.8 195.9,346.1 C196.0,345.5 196.0,344.8 196.1,344.1 C196.2,343.4 196.3,342.7 196.4,342.1 C196.4,341.4 196.5,340.7 196.6,340.0 C196.7,339.4 196.8,338.8 196.8,338.2 C196.9,337.7 197.0,337.1 197.1,336.5 C197.1,335.9 197.2,335.3 197.3,334.8 C197.3,334.2 197.4,333.6 197.5,333.0 C197.6,332.3 197.6,331.6 197.7,330.9 C197.7,330.2 197.8,329.5 197.8,328.8 C197.9,328.0 198.0,327.3 198.0,326.6 C198.1,325.9 198.1,325.2 198.2,324.5 C198.3,323.8 198.4,323.1 198.4,322.4 C198.5,321.7 198.6,321.0 198.7,320.4 C198.7,319.7 198.8,319.0 198.9,318.3 C199.0,317.6 199.0,316.9 199.1,316.2 C199.2,315.5 199.3,314.8 199.3,314.1 C199.4,313.5 199.5,312.8 199.6,312.1 C199.6,311.4 199.7,310.7 199.8,310.0 C199.9,309.4 200.0,308.8 200.1,308.2 C200.1,307.7 200.2,307.1 200.3,306.5 C200.4,305.9 200.5,305.3 200.6,304.8 C200.6,304.2 200.7,303.6 200.8,303.0 C200.9,302.4 201.0,301.8 201.0,301.2 C201.1,300.6 201.2,300.0 201.3,299.4 C201.4,298.8 201.4,298.2 201.5,297.6 C201.6,297.0 201.7,296.4 201.8,295.8 C201.8,295.2 201.9,294.6 202.0,294.0 C202.1,293.3 202.2,292.7 202.3,292.0 C202.4,291.3 202.5,290.7 202.6,290.0 C202.7,289.3 202.8,288.7 202.9,288.0 C203.0,287.3 203.1,286.7 203.2,286.0 C203.3,285.3 203.4,284.7 203.5,284.0 C203.6,283.3 203.8,282.7 203.9,282.1 C204.1,281.4 204.2,280.8 204.3,280.1 C204.5,279.5 204.6,278.8 204.8,278.2 C204.9,277.5 205.0,276.9 205.2,276.2 C205.3,275.6 205.5,274.9 205.6,274.3 C205.7,273.7 205.9,273.0 206.0,272.4 C206.1,271.8 206.2,271.1 206.4,270.5 C206.5,269.9 206.6,269.2 206.7,268.6 C206.9,268.0 207.0,267.3 207.1,266.7 C207.2,266.1 207.4,265.4 207.5,264.8 C207.6,264.2 207.8,263.5 207.9,262.9 C208.1,262.3 208.2,261.6 208.3,261.0 C208.5,260.4 208.6,259.7 208.7,259.1 C208.9,258.5 209.0,257.8 209.2,257.2 C209.3,256.6 209.4,255.9 209.6,255.3 C209.7,254.7 209.8,254.0 210.0,253.4 C210.1,252.8 210.2,252.1 210.4,251.5 C210.6,250.8 210.8,250.1 211.0,249.5 C211.2,248.8 211.4,248.1 211.6,247.4 C211.8,246.8 212.0,246.1 212.2,245.4 C212.4,244.7 212.6,244.1 212.8,243.4 C213.0,242.7 213.2,242.0 213.4,241.4 C213.6,240.7 213.8,240.0 214.0,239.3 C214.2,238.7 214.3,237.9 214.6,237.3 C214.9,236.7 215.3,236.2 215.6,235.7 C215.9,235.1 216.3,234.6 216.6,234.1 C216.9,233.5 217.3,233.0 217.6,232.4 C217.9,231.9 218.3,231.4 218.6,230.8 C218.9,230.3 219.2,229.7 219.6,229.2 C220.0,228.7 220.3,228.2 220.7,227.7 C221.1,227.2 221.5,226.7 221.8,226.2 C222.2,225.7 222.6,225.2 223.0,224.7 C223.3,224.2 223.7,223.7 224.1,223.2 C224.5,222.7 225.0,222.2 225.5,221.7 C225.9,221.2 226.4,220.7 226.8,220.1 C227.3,219.6 227.8,219.1 228.2,218.6 C228.7,218.1 229.2,217.6 229.6,217.1 C230.0,216.7 230.3,216.2 230.6,215.7 C230.9,215.3 231.3,214.8 231.6,214.3 C231.9,213.9 232.3,213.4 232.6,213.0 C232.9,212.5 233.2,212.0 233.6,211.6 C234.0,211.0 234.5,210.5 235.0,210.0 C235.4,209.4 235.9,208.9 236.3,208.3 C236.8,207.8 237.3,207.3 237.7,206.7 C238.2,206.2 238.6,205.6 239.1,205.1 C239.6,204.6 240.2,204.3 240.8,203.9 C241.3,203.5 241.9,203.2 242.4,202.8 C243.0,202.4 243.5,201.9 244.1,201.6 C244.6,201.3 245.3,201.3 245.9,201.1 C246.5,200.9 247.1,200.8 247.6,200.6 C248.2,200.4 248.8,200.3 249.4,200.1 C250.0,199.9 250.6,199.7 251.2,199.6 C251.9,199.5 252.5,199.7 253.2,199.7 C253.9,199.7 254.5,199.7 255.2,199.8 C255.9,199.8 256.5,199.8 257.2,199.8 C257.9,199.8 258.6,200.0 259.2,199.9 C259.8,199.8 260.4,199.3 260.9,199.1 C261.5,198.8 262.1,198.5 262.7,198.2 C263.3,198.0 263.9,197.7 264.4,197.4 C265.0,197.2 265.7,197.0 266.2,196.6 C266.7,196.2 267.2,195.7 267.6,195.2 C268.1,194.8 268.6,194.3 269.1,193.9 C269.5,193.4 270.0,193.0 270.5,192.5 C271.0,192.1 271.4,191.6 271.8,191.2 C272.3,190.7 272.7,190.3 273.2,189.8 C273.6,189.4 274.1,188.9 274.5,188.5 C275.0,188.0 275.4,187.6 275.9,187.1 C276.3,186.7 276.7,185.9 277.2,185.8 C277.7,185.7 278.3,186.4 278.8,186.7 C279.4,187.0 279.9,187.3 280.5,187.6 C281.0,187.9 281.7,188.1 282.1,188.5 C282.5,188.9 282.7,189.5 283.0,190.0 C283.3,190.5 283.6,191.0 283.9,191.5 C284.2,192.0 284.5,192.5 284.8,193.0 C285.1,193.5 285.5,194.0 285.7,194.5 C286.0,195.2 286.2,195.9 286.4,196.5 C286.7,197.2 286.9,197.9 287.1,198.6 C287.4,199.3 287.6,199.9 287.9,200.6 C288.1,201.3 288.3,202.0 288.6,202.7 C288.8,203.3 289.1,204.0 289.3,204.7 C289.5,205.3 289.8,206.0 290.0,206.6 C290.3,207.3 290.5,207.9 290.7,208.5 C291.0,209.2 291.2,209.8 291.5,210.5 C291.7,211.1 291.9,211.7 292.2,212.4 C292.4,213.0 292.7,213.7 292.9,214.3 C293.1,214.9 293.3,215.5 293.5,216.1 C293.7,216.7 293.9,217.3 294.1,217.9 C294.3,218.5 294.5,219.1 294.7,219.8 C294.9,220.4 295.1,221.0 295.3,221.6 C295.5,222.2 295.7,222.8 295.9,223.4 C296.1,224.0 296.3,224.6 296.5,225.2 C296.8,225.9 297.1,226.5 297.5,227.1 C297.8,227.8 298.1,228.4 298.4,229.0 C298.7,229.7 299.1,230.3 299.4,231.0 C299.7,231.6 300.0,232.2 300.3,232.9 C300.7,233.5 300.9,234.2 301.3,234.8 C301.6,235.3 302.1,235.6 302.5,236.0 C302.9,236.4 303.3,236.8 303.7,237.2 C304.1,237.6 304.5,238.0 304.9,238.4 C305.3,238.8 305.6,239.4 306.1,239.6 C306.7,239.9 307.4,239.9 308.1,240.0 C308.8,240.2 309.4,240.3 310.1,240.5 C310.8,240.6 311.5,241.0 312.1,240.9 C312.7,240.8 313.2,240.2 313.8,239.9 C314.3,239.6 314.9,239.3 315.5,238.9 C316.0,238.6 316.6,238.3 317.1,238.0 C317.7,237.6 318.3,237.3 318.8,237.0 C319.4,236.7 320.0,236.4 320.5,236.0 C321.0,235.6 321.3,235.0 321.7,234.5 C322.1,233.9 322.5,233.4 322.9,232.9 C323.3,232.4 323.7,231.9 324.1,231.4 C324.5,230.9 325.0,230.3 325.4,229.8 C325.8,229.3 326.2,228.8 326.6,228.3 C327.0,227.8 327.4,227.3 327.8,226.7 C328.2,226.2 328.6,225.7 329.0,225.2 C329.4,224.6 329.8,224.0 330.2,223.5 C330.6,222.9 331.0,222.3 331.4,221.7 C331.8,221.2 332.2,220.6 332.6,220.0 C333.0,219.4 333.4,218.9 333.8,218.3 C334.2,217.7 334.6,217.1 335.0,216.6 C335.4,216.0 335.8,215.4 336.2,214.8 C336.6,214.3 337.0,213.7 337.4,213.1 C337.8,212.5 338.1,211.8 338.4,211.2 C338.8,210.6 339.1,210.0 339.5,209.3 C339.8,208.7 340.1,208.1 340.5,207.4 C340.8,206.8 341.2,206.2 341.5,205.6 C341.9,204.9 342.2,204.3 342.5,203.7 C342.9,203.0 343.2,202.4 343.6,201.8 C343.9,201.2 344.2,200.5 344.6,199.9 C344.9,199.4 345.4,199.0 345.8,198.6 C346.2,198.1 346.6,197.7 347.0,197.3 C347.4,196.8 347.8,196.4 348.2,195.9 C348.6,195.5 349.0,195.1 349.4,194.6 C349.8,194.2 350.2,193.7 350.6,193.3 C351.1,192.9 351.6,192.6 352.1,192.2 C352.6,191.9 353.1,191.5 353.6,191.2 C354.1,190.8 354.6,190.5 355.1,190.2 C355.6,189.8 356.1,189.1 356.6,189.1 C357.0,189.1 357.4,189.9 357.8,190.3 C358.2,190.7 358.7,191.1 359.1,191.5 C359.5,191.9 360.0,192.2 360.3,192.7 C360.7,193.3 360.9,194.0 361.3,194.6 C361.6,195.2 361.9,195.8 362.2,196.5 C362.6,197.3 362.8,198.1 363.2,198.9 C363.5,199.6 363.7,200.4 364.1,200.9 C364.3,201.1 364.8,201.1 365.1,201.2 C365.6,201.4 366.2,201.4 366.6,201.7 C367.2,202.2 367.5,203.2 368.1,203.7 C368.5,204.1 369.2,204.0 369.6,204.3 C370.2,205.0 370.5,206.1 371.1,206.8 C371.5,207.3 372.2,207.5 372.7,207.9 C373.2,208.2 373.8,208.6 374.3,209.0 C374.8,209.4 375.4,209.8 375.9,210.3 C376.4,210.7 376.9,211.4 377.4,211.6 C377.9,211.7 378.6,210.8 379.0,211.0 C379.6,211.2 380.1,212.2 380.5,212.8 C380.7,213.2 380.9,213.6 381.0,214.0 C381.3,215.4 381.2,217.2 381.5,218.3 C381.5,218.4 382.0,217.6 382.0,217.8 C382.3,218.8 382.0,221.4 382.5,222.1 C382.7,222.4 383.8,220.6 384.2,220.8 C385.0,221.1 385.3,222.9 386.0,223.7 C386.2,223.9 386.8,223.7 387.0,223.9 C387.4,224.3 387.7,224.9 388.0,225.5 C388.4,226.3 388.8,228.3 389.0,228.1 C389.3,227.8 389.3,225.3 389.5,223.9 C389.6,223.3 389.8,222.5 390.0,222.3 C390.1,222.2 390.4,223.3 390.5,223.1 C390.8,222.5 390.6,220.8 391.0,220.1 C391.1,219.9 391.9,220.1 392.0,220.4 C392.5,221.6 392.5,223.2 393.0,224.6 C393.2,225.1 393.6,225.9 394.0,225.9 C394.3,226.0 394.7,224.8 395.0,224.9 C395.5,225.3 395.7,226.7 396.3,227.4 C396.6,227.7 397.2,227.7 397.6,228.0 C398.1,228.6 398.4,229.3 398.8,230.0 C399.3,230.8 399.5,232.1 400.1,232.5 C400.4,232.7 401.2,231.6 401.6,231.8 C402.2,232.2 402.5,234.0 403.1,234.2 C403.5,234.3 404.1,233.0 404.6,233.0 C405.1,233.0 405.8,233.6 406.1,234.1 C406.7,235.1 406.8,236.6 407.4,237.4 C407.7,237.7 408.4,237.3 408.8,237.5 C409.3,237.8 409.7,238.4 410.1,238.9 C410.6,239.4 410.9,240.0 411.4,240.4 C411.8,240.7 412.3,240.8 412.8,241.0 C413.2,241.3 413.8,242.0 414.1,241.8 C414.6,241.4 414.7,239.7 415.1,239.4 C415.3,239.2 415.8,240.1 416.1,240.1 C416.4,240.1 416.8,239.8 417.1,239.5 C417.5,239.0 417.8,238.4 418.1,237.9 C418.5,237.0 418.8,236.1 419.1,235.3 C419.4,234.4 419.8,232.9 420.1,232.7 C420.3,232.6 420.6,233.8 420.8,234.4 C421.0,235.2 421.2,236.1 421.4,237.0 C421.6,237.6 421.8,238.2 422.1,238.6 C422.2,238.8 422.7,238.5 422.9,238.7 C423.2,239.3 423.4,240.1 423.6,240.9 C423.9,241.6 424.1,242.3 424.4,243.0 C424.6,243.8 424.9,244.5 425.1,245.2 C425.4,246.2 425.5,247.2 425.9,248.1 C426.0,248.5 426.5,249.4 426.6,249.2 C426.9,248.7 426.8,246.7 427.0,246.0 C427.0,245.9 427.3,246.8 427.4,246.6 C427.6,246.0 427.6,244.6 427.7,243.7 C427.8,243.2 427.9,242.6 428.1,242.2 C428.5,241.3 429.0,240.4 429.6,239.8 C430.0,239.3 430.7,238.8 431.2,238.9 C431.6,238.9 432.0,239.6 432.2,240.1 C432.6,240.9 432.7,242.2 433.2,242.6 C433.4,242.8 433.8,242.0 434.2,241.9 C434.6,241.8 435.2,242.5 435.5,242.2 C436.1,241.9 436.3,240.5 436.9,240.1 C437.2,239.9 437.9,241.0 438.2,240.7 C438.9,240.0 439.0,238.2 439.7,237.2 C440.0,236.8 440.8,236.3 441.2,236.4 C441.6,236.6 441.9,237.4 442.2,238.0 C442.6,238.7 442.7,239.8 443.2,240.2 C443.4,240.4 444.0,239.5 444.2,239.8 C444.7,240.4 444.7,241.8 445.2,242.7 C445.4,243.1 445.9,243.3 446.2,243.6 C446.6,244.2 446.7,245.3 447.2,245.5 C447.6,245.7 448.2,245.1 448.7,245.1 C449.2,245.1 449.7,245.6 450.2,245.5 C450.9,245.3 451.6,244.3 452.2,244.4 C452.9,244.5 453.6,246.2 454.2,246.2 C454.9,246.2 455.7,244.1 456.2,244.2 C456.8,244.4 456.9,246.7 457.5,247.1 C457.8,247.4 458.4,246.3 458.9,246.1 C459.3,246.0 459.8,246.2 460.2,246.3 C460.7,246.3 461.1,246.7 461.6,246.6 C462.1,246.5 462.7,246.2 462.9,245.7 C463.6,244.5 463.7,242.0 464.3,241.6 C464.6,241.4 465.2,243.0 465.6,243.8 C466.1,244.7 466.3,246.0 467.0,246.6 C467.2,246.9 467.9,246.5 468.3,246.7 C468.8,247.0 469.1,247.6 469.6,247.9 C469.9,248.2 470.4,248.4 470.8,248.7 C471.3,249.2 471.7,249.7 472.1,250.3 C472.6,251.3 472.7,252.8 473.3,253.6 C473.5,253.8 474.0,253.4 474.3,253.2 C474.7,252.8 475.1,252.2 475.3,251.7 C475.7,250.7 476.0,249.7 476.3,248.7 C476.6,247.7 476.8,246.6 477.3,245.8 C477.5,245.5 477.9,245.4 478.2,245.3 C478.5,245.2 478.9,245.5 479.1,245.3 C479.5,245.1 479.6,244.4 480.0,244.1 C480.5,243.7 481.2,243.6 481.7,243.2 C482.3,242.7 482.7,241.8 483.3,241.6 C483.8,241.5 484.6,242.4 485.0,242.2 C485.5,241.9 485.6,240.9 486.0,240.2 C486.3,239.8 486.8,239.4 487.0,238.9 C487.5,238.0 487.6,236.6 488.1,236.0 C488.2,235.8 488.9,236.4 489.1,236.2 C489.5,235.9 489.7,234.8 490.1,234.3 C490.3,234.0 490.9,233.6 491.1,233.8 C491.5,234.1 491.8,235.1 492.1,235.8 C492.5,236.9 492.5,238.6 493.1,239.2 C493.4,239.5 494.3,238.2 494.6,238.4 C495.3,238.9 495.5,241.3 496.1,241.4 C496.5,241.5 497.0,239.7 497.6,239.1 C498.0,238.8 498.7,239.0 499.1,238.7 C499.5,238.4 499.9,237.9 500.1,237.4 C500.5,236.5 500.7,235.4 501.1,234.6 C501.3,234.1 501.7,233.6 502.1,233.5 C502.7,233.2 503.4,233.3 504.1,233.4 C504.6,233.4 505.1,233.8 505.6,233.6 C506.1,233.5 506.7,232.8 507.1,232.7 C507.2,232.6 507.3,233.0 507.3,233.1 C507.5,234.6 507.4,236.1 507.6,237.6 C507.6,237.8 507.7,238.1 507.8,238.3 C507.9,238.8 508.0,239.4 508.0,239.9 C508.1,240.8 508.2,241.7 508.3,242.7 C508.4,243.9 508.3,245.2 508.5,246.4 C508.5,246.7 508.8,246.9 508.8,247.2 C509.0,247.9 509.1,248.6 509.2,249.4 C509.3,250.3 509.1,251.4 509.5,252.3 C509.7,252.8 510.4,253.1 510.9,253.3 C511.4,253.6 511.9,253.6 512.4,253.7 C512.9,253.7 513.5,253.4 513.8,253.6 C514.4,253.9 514.9,254.5 515.3,255.1 C515.8,255.8 516.1,256.7 516.6,257.3 C517.0,257.8 517.5,258.0 518.0,258.3 C518.4,258.6 518.9,258.7 519.3,259.0 C519.6,259.3 519.9,259.6 520.1,259.9 C520.4,260.5 520.7,261.0 520.9,261.6 C521.2,262.4 521.3,263.3 521.7,264.0 C521.9,264.4 522.2,264.8 522.5,264.9 C522.7,264.9 523.2,264.3 523.3,264.6 C523.7,265.5 523.6,267.0 523.8,268.3 C524.0,269.0 524.1,269.8 524.4,270.5 C524.5,270.9 524.6,271.5 524.9,271.8 C525.3,272.3 526.0,272.6 526.5,272.9 C527.1,273.2 527.7,273.9 528.2,273.7 C528.9,273.5 529.4,272.2 530.2,271.8 C530.8,271.5 531.6,271.9 532.2,271.8 C532.9,271.6 533.5,271.2 534.2,270.9 C534.8,270.7 535.6,270.7 536.2,270.5 C536.6,270.3 537.1,270.0 537.4,269.7 C537.9,269.2 538.4,267.7 538.6,267.9 C539.0,268.4 538.9,270.4 539.2,271.6 C539.3,272.0 539.6,272.3 539.8,272.7 C540.0,273.1 540.2,273.6 540.4,274.0 C540.6,274.7 540.8,275.4 541.0,276.1" fill="none" stroke="#000000" stroke-width="3.9" stroke-linecap="round" stroke-linejoin="round" stroke-dasharray="8 7.2"/>
<path d="M533.0,279.7 L533.7,280.7 L534.4,278.8 L535.1,275.4 L535.9,274.7 L536.6,273.0 L537.3,272.1 L538.0,271.0 L538.9,270.1 L539.8,271.4 L540.7,275.9 L541.6,276.0 L542.4,278.7 L543.3,277.5 L544.2,280.7 L545.1,283.2 L546.0,283.0 L547.0,284.4 L548.0,282.9 L549.0,278.6 L550.0,277.3 L551.0,277.9 L552.0,278.1 L553.0,274.8 L554.0,273.0 L555.0,272.4 L556.0,269.6 L557.0,269.0 L558.0,268.4 L559.0,267.3 L560.0,265.0 L561.0,266.4 L562.0,267.7 L563.0,269.9 L564.0,270.6 L565.0,270.9 L566.0,275.2 L567.2,275.2 L568.5,276.5 L569.8,275.9 L571.0,279.8 L572.2,280.3 L573.5,278.6 L574.8,280.4 L576.0,282.8 L577.2,282.0 L578.4,282.0 L579.6,279.3 L580.8,280.0 L582.0,278.6 L583.6,277.7 L585.2,279.1 L586.8,280.6 L588.4,280.8 L590.0,280.0 L591.3,279.3 L592.7,276.3 L594.0,276.1 L595.3,277.1 L596.7,274.7 L598.0,272.8 L599.5,273.7 L601.0,273.7 L602.5,273.1 L604.0,271.5 L604.9,273.2 L605.7,274.9 L606.6,277.3 L607.4,277.8 L608.3,278.8 L609.1,280.5 L610.0,280.3 L611.3,279.4 L612.7,280.7 L614.0,280.7 L615.3,278.3 L616.7,276.6 L618.0,274.8 L619.2,275.0 L620.5,275.7 L621.8,274.0 L623.0,272.1 L624.2,272.3 L625.5,269.0 L626.8,269.0 L628.0,269.6 L628.8,269.8 L629.5,270.9 L630.2,271.7 L631.0,274.2 L631.8,277.1 L632.5,275.2 L633.2,279.5 L634.0,281.2 L635.0,282.4 L636.0,282.9 L637.0,284.1 L638.0,284.1 L638.9,282.7 L639.8,280.7 L640.8,277.8 L641.7,279.2 L642.6,276.6 L643.5,273.7 L644.5,273.2 L645.4,271.6 L646.3,269.6 L647.2,268.1 L648.2,267.2 L649.1,266.0 L650.0,264.4 L650.7,265.5 L651.3,265.6 L652.0,268.0 L652.7,269.5 L653.3,272.6 L654.0,275.3 L655.1,276.2 L656.3,277.4 L657.4,278.6 L658.6,277.7 L659.7,280.9 L660.9,281.5 L662.0,280.5 L663.5,280.8 L665.0,281.3 L666.5,284.4 L668.0,283.1 L669.5,283.1 L671.0,285.4 L672.5,284.9 L674.0,284.5 L674.7,283.1 L675.5,282.8 L676.2,279.9 L676.9,278.6 L677.6,278.6 L678.4,276.0 L679.1,273.9 L679.8,272.8 L680.5,269.6 L681.3,269.2 L682.0,267.7 L682.8,268.4 L683.5,269.6 L684.2,273.9 L685.0,274.0 L685.8,274.5 L686.5,277.4 L687.2,279.6 L688.0,278.3 L689.0,279.6 L690.0,281.4 L691.0,284.8 L692.0,284.1 L693.0,287.4 L694.0,288.6 L694.7,286.5 L695.5,283.7 L696.2,284.8 L696.9,282.5 L697.6,279.9 L698.4,277.2 L699.1,277.1 L699.8,274.5 L700.5,273.5 L701.3,271.0 L702.0,270.5 L703.6,267.6 L705.2,267.7 L706.8,269.3 L708.4,268.2 L710.0,265.3 L710.5,268.8 L711.0,268.3 L711.5,272.1 L712.0,272.9 L712.5,273.2 L713.0,274.1 L713.5,274.7 L714.0,279.4 L715.1,275.0 L716.2,276.5 L717.2,275.7 L718.3,272.9 L719.4,270.2 L720.5,271.3 L720.7,273.3 L720.9,273.9 L721.1,274.8 L721.3,276.0 L721.5,277.4" fill="none" stroke="#000000" stroke-width="3.9" stroke-linecap="round" stroke-linejoin="round"/>
<path d="M541.0,277.7 L542.2,278.8 L543.5,276.1 L544.8,277.4 L546.0,281.8 L547.6,280.5 L549.2,279.3 L550.8,276.8 L552.4,277.2 L554.0,276.3 L555.5,275.3 L557.0,272.6 L558.5,272.9 L560.0,271.8 L561.5,274.2 L563.0,276.2 L564.5,276.9 L566.0,276.1 L567.7,276.2 L569.3,276.1 L571.0,275.6 L572.7,276.2 L574.3,278.7 L576.0,278.7 L577.5,278.5 L579.0,280.3 L580.5,278.2 L582.0,277.9 L583.6,276.7 L585.2,275.9 L586.8,277.4 L588.4,276.8 L590.0,278.6 L591.6,280.2 L593.2,278.3 L594.8,275.6 L596.4,278.1 L598.0,277.2 L599.5,276.7 L601.0,277.2 L602.5,276.4 L604.0,276.2 L605.5,275.5 L607.0,279.3 L608.5,280.4 L610.0,278.0 L611.6,280.0 L613.2,279.3 L614.8,277.7 L616.4,277.4 L618.0,276.7 L619.7,278.0 L621.3,275.6 L623.0,276.4 L624.7,273.7 L626.3,275.5 L628.0,274.9 L629.2,274.1 L630.4,275.6 L631.6,278.3 L632.8,278.5 L634.0,278.5 L635.3,277.9 L636.7,279.0 L638.0,281.2 L639.5,277.8 L641.0,279.9 L642.5,276.0 L644.0,277.7 L645.5,273.9 L647.0,275.6 L648.5,273.4 L650.0,271.4 L651.0,272.6 L652.0,274.3 L653.0,275.1 L654.0,275.0 L655.6,275.3 L657.2,277.4 L658.8,279.9 L660.4,279.3 L662.0,277.6 L663.7,281.1 L665.4,281.0 L667.1,282.0 L668.9,279.1 L670.6,281.8 L672.3,279.1 L674.0,281.9 L675.3,278.9 L676.7,277.4 L678.0,278.9 L679.3,274.1 L680.7,274.6 L682.0,274.7 L683.2,273.1 L684.4,274.1 L685.6,278.1 L686.8,277.2 L688.0,279.5 L689.5,277.4 L691.0,279.8 L692.5,279.8 L694.0,282.9 L695.3,279.0 L696.7,281.5 L698.0,276.0 L699.3,277.8 L700.7,273.3 L702.0,273.0 L703.6,275.1 L705.2,271.8 L706.8,271.6 L708.4,273.5 L710.0,271.8 L711.0,271.6 L712.0,277.1 L713.0,274.8 L714.0,275.6 L715.6,276.1 L717.2,276.4 L718.9,276.0 L720.5,272.4 L721.0,275.2 L721.5,275.6" fill="none" stroke="#000000" stroke-width="3.9" stroke-linecap="round" stroke-linejoin="round"/>
<path d="M450.9,268.0 C451.4,268.3 451.8,268.7 452.3,269.0 C452.7,269.3 453.2,269.7 453.6,270.0 C454.1,270.3 454.6,270.7 455.0,271.0 C455.4,271.3 455.8,271.7 456.3,272.0 C456.7,272.3 457.1,272.7 457.5,273.0 C457.9,273.3 458.4,273.7 458.8,274.0 C459.2,274.3 459.6,274.7 460.0,275.0 C460.5,275.3 460.9,275.6 461.3,276.0 C461.6,276.3 461.9,276.8 462.2,277.1 C462.5,277.5 462.8,277.9 463.1,278.2 C463.5,278.6 463.8,279.0 464.1,279.4 C464.4,279.8 464.7,280.1 465.0,280.5 C465.4,280.9 465.8,281.4 466.2,281.8 C466.6,282.3 466.9,282.7 467.3,283.2 C467.7,283.6 468.1,284.1 468.5,284.5 C468.9,285.0 469.3,285.4 469.6,285.9 C470.0,286.3 470.4,286.8 470.8,287.3 C471.2,287.7 471.5,288.2 471.9,288.6 C472.3,289.1 472.7,289.6 473.1,290.0 C473.4,290.5 473.8,290.9 474.2,291.4 C474.6,291.9 474.9,292.3 475.3,292.8 C475.7,293.2 476.0,293.7 476.4,294.1 C476.8,294.6 477.2,295.0 477.5,295.5 C477.8,295.9 477.9,296.3 478.1,296.8 C478.3,297.2 478.5,297.6 478.8,298.0 C479.0,298.4 479.2,298.8 479.4,299.2 C479.6,299.7 479.7,300.1 480.0,300.5 C480.3,300.9 480.6,301.2 480.9,301.5 C481.2,301.9 481.5,302.2 481.9,302.6 C482.2,302.9 482.5,303.2 482.8,303.6 C483.1,303.9 483.4,304.2 483.7,304.6 C484.0,305.1 484.3,305.6 484.6,306.1 C484.9,306.5 485.2,307.0 485.5,307.5 C485.7,307.9 486.0,308.3 486.2,308.7 C486.5,309.1 486.7,309.5 486.9,309.9 C487.2,310.2 487.4,310.6 487.7,311.0 C487.9,311.4 488.2,311.8 488.4,312.2 C488.6,312.7 488.8,313.2 489.0,313.6 C489.2,314.1 489.5,314.6 489.7,315.1 C489.9,315.5 490.1,316.0 490.3,316.5 C490.5,317.0 490.7,317.5 490.9,317.9 C491.1,318.4 491.4,318.9 491.6,319.4 C491.8,319.8 492.0,320.3 492.2,320.8 C492.4,321.4 492.6,321.9 492.8,322.5 C493.0,323.1 493.2,323.6 493.4,324.2 C493.6,324.8 493.7,325.3 493.9,325.9 C494.1,326.5 494.3,327.0 494.5,327.6 C494.7,328.2 494.9,328.7 495.1,329.3 C495.3,329.8 495.4,330.4 495.5,330.9 C495.6,331.4 495.7,331.9 495.9,332.5 C496.0,333.0 496.1,333.5 496.2,334.1 C496.4,334.6 496.5,335.1 496.6,335.6 C496.8,336.2 496.9,336.7 497.0,337.2 C497.1,337.7 497.2,338.3 497.4,338.8 C497.6,339.3 497.7,339.8 497.9,340.4 C498.1,340.9 498.3,341.4 498.4,341.9 C498.6,342.4 498.8,342.9 499.0,343.4 C499.2,344.0 499.3,344.5 499.5,345.0 C499.7,345.5 499.8,346.0 499.9,346.5 C500.1,346.8 500.3,347.1 500.4,347.4 C500.6,347.9 500.7,348.5 500.9,349.0 C501.0,349.6 501.2,350.3 501.3,350.9 C501.4,351.5 501.5,352.2 501.7,352.8 C501.8,353.2 502.0,353.4 502.1,353.8 C502.3,354.3 502.4,354.8 502.6,355.3 C502.7,355.9 502.9,356.5 503.0,357.1 C503.1,357.8 503.1,358.6 503.4,359.3 C503.5,359.7 504.0,359.9 504.1,360.2 C504.4,361.0 504.6,361.8 504.8,362.6 C505.0,363.1 505.3,363.6 505.6,364.1 C505.8,364.5 506.1,364.8 506.3,365.1 C506.6,365.8 506.8,366.5 507.0,367.2 C507.2,367.8 507.3,368.3 507.5,368.8 C507.6,369.4 507.8,369.9 508.0,370.5 C508.1,371.2 508.2,372.1 508.4,372.8 C508.5,373.1 508.8,373.2 508.9,373.4 C509.1,373.9 509.3,374.5 509.4,375.0 C509.6,375.9 509.8,376.8 510.1,377.7 C510.2,378.0 510.6,378.3 510.8,378.6 C511.1,379.0 511.3,379.5 511.5,379.9 C511.8,380.5 512.0,381.1 512.2,381.6 C512.4,382.2 512.7,382.7 512.9,383.2 C513.2,384.0 513.3,384.8 513.6,385.5 C513.7,385.8 514.2,385.9 514.3,386.2 C514.5,386.6 514.6,387.3 514.8,387.8 C514.9,388.5 515.0,389.2 515.2,389.9 C515.3,390.4 515.5,391.0 515.6,391.5 C515.8,392.2 515.9,392.9 516.1,393.6 C516.2,394.2 516.4,394.7 516.5,395.2 C516.7,395.5 516.9,395.9 517.0,396.2 C517.2,396.7 517.3,397.2 517.4,397.7 C517.6,398.5 517.7,399.3 517.9,400.1 C518.0,400.7 518.1,401.4 518.3,402.0 C518.4,402.2 518.7,402.3 518.7,402.5 C518.9,403.4 519.0,404.2 519.1,405.1 C519.2,405.7 519.4,406.3 519.5,406.9 C519.7,407.4 519.8,407.9 520.0,408.4 C520.1,408.8 520.3,409.2 520.4,409.6 C520.5,410.3 520.6,411.2 520.8,412.0 C520.9,412.5 521.0,413.0 521.2,413.6 C521.3,413.9 521.5,414.3 521.6,414.6 C521.9,415.3 522.1,415.9 522.4,416.5 C522.6,416.8 523.0,417.0 523.2,417.3 C523.5,417.7 523.8,418.0 524.0,418.4 C524.2,419.0 524.3,419.6 524.4,420.2 C524.5,420.7 524.7,421.1 524.8,421.6 C524.9,422.1 525.1,422.6 525.2,423.1 C525.3,423.6 525.3,424.3 525.6,424.8 C525.8,425.2 526.3,425.5 526.7,425.8 C527.0,426.1 527.4,426.4 527.7,426.8 C528.1,427.0 528.6,427.2 528.8,427.6 C529.1,428.0 529.1,428.7 529.3,429.2 C529.5,429.7 529.7,430.2 529.9,430.6 C530.0,431.0 530.2,431.4 530.4,431.7 C530.7,432.1 531.3,432.3 531.6,432.7 C532.1,433.2 532.5,433.8 532.8,434.4 C533.0,434.9 533.1,435.4 533.2,435.8 C533.3,436.4 533.4,436.9 533.6,437.4 C533.7,437.7 533.9,437.9 534.0,438.2 C534.2,438.7 534.3,439.3 534.4,439.8 C534.6,440.6 534.6,441.4 534.8,442.1 C534.9,442.5 534.9,443.0 535.2,443.2 C535.5,443.5 536.0,443.7 536.5,443.7 C536.9,443.8 537.4,443.3 537.7,443.4 C538.1,443.6 538.4,444.4 538.8,444.8 C539.1,445.4 539.4,446.0 539.8,446.5 C540.1,446.8 540.7,446.9 540.9,447.3 C541.2,447.8 541.1,448.7 541.4,449.3 C541.5,449.5 541.8,449.7 541.9,449.9 C542.1,450.5 542.2,451.2 542.3,451.8 C542.5,452.5 542.6,453.2 542.8,453.9 C542.9,454.3 543.1,454.7 543.3,455.0 C543.6,455.5 544.0,455.9 544.5,456.2 C544.8,456.5 545.3,456.9 545.7,456.8 C546.3,456.6 546.7,455.8 547.3,455.4 C547.8,455.1 548.3,454.7 548.9,454.6 C549.4,454.5 550.0,454.8 550.5,454.9 C550.9,454.9 551.4,454.8 551.7,455.0 C552.2,455.3 552.5,456.2 552.9,456.3 C553.1,456.4 553.4,455.9 553.7,455.7 C553.9,455.6 554.3,455.2 554.5,455.4 C554.9,455.7 555.0,456.6 555.3,457.1 C555.5,457.5 555.9,457.9 556.1,458.3 C556.4,458.8 556.6,459.8 556.9,459.9 C557.1,460.0 557.5,459.3 557.7,458.9 C558.0,458.3 558.2,457.6 558.5,457.0 C558.7,456.5 558.9,456.0 559.3,455.7 C559.7,455.4 560.4,455.4 560.9,455.2 C561.4,455.0 562.1,454.9 562.5,454.5 C562.9,453.9 563.0,453.1 563.3,452.4 C563.5,452.0 563.8,451.6 564.1,451.2 C564.4,450.7 564.7,450.3 564.9,449.9 C565.0,449.7 565.1,449.5 565.2,449.2 C565.3,448.8 565.3,448.3 565.4,447.9 C565.5,447.5 565.5,447.0 565.7,446.9 C566.1,446.6 566.8,446.8 567.4,446.6 C567.9,446.5 568.6,446.3 569.0,446.0 C569.2,445.8 569.2,445.5 569.3,445.2 C569.4,444.8 569.6,444.4 569.6,444.0 C569.8,443.3 569.8,442.5 570.0,441.8 C570.1,441.2 570.1,440.6 570.3,440.0 C570.4,439.6 570.4,439.3 570.6,439.0 C570.9,438.4 571.3,437.9 571.6,437.4 C571.9,436.9 572.3,436.4 572.6,435.9 C572.9,435.4 573.2,434.9 573.6,434.4 C573.9,433.9 574.2,433.4 574.6,433.0 C574.9,432.8 575.5,433.0 575.8,432.7 C576.3,432.2 576.5,430.9 577.0,430.6 C577.3,430.4 577.9,431.2 578.3,431.2 C578.8,431.3 579.2,430.8 579.7,430.7 C580.1,430.7 580.8,430.5 581.0,430.7 C581.3,431.2 581.0,432.3 581.0,433.1 C581.0,433.4 581.0,433.7 581.0,434.1 C581.0,434.5 580.8,435.4 581.0,435.5 C581.3,435.7 582.1,435.2 582.6,435.0 C583.1,434.9 583.8,434.9 584.2,434.5 C584.6,434.2 584.6,433.6 584.8,433.1 C585.0,432.8 585.3,432.6 585.4,432.3 C585.7,431.7 585.8,431.1 586.0,430.5 C586.2,430.1 586.3,429.5 586.6,429.4 C586.9,429.3 587.5,429.8 587.9,429.9 C588.4,430.0 588.8,429.8 589.3,429.9 C589.7,430.0 590.4,430.6 590.6,430.5 C590.9,430.2 590.8,429.3 590.9,428.7 C591.0,428.1 591.1,427.5 591.2,426.9 C591.3,426.4 591.4,425.9 591.6,425.4 C591.6,425.2 591.8,425.0 591.9,424.8 C592.0,424.3 592.1,423.8 592.2,423.3 C592.3,422.9 592.5,422.5 592.6,422.1 C592.8,421.6 592.9,421.0 593.0,420.4 C593.1,419.9 593.3,419.4 593.4,418.9 C593.5,418.3 593.6,417.6 593.8,417.0 C593.9,416.8 594.3,416.9 594.3,416.7 C594.6,416.1 594.6,415.3 594.9,414.7 C595.0,414.4 595.3,414.2 595.4,413.9 C595.6,413.3 595.7,412.7 595.9,412.1 C596.0,411.7 596.2,411.3 596.3,410.9 C596.5,410.4 596.7,409.9 596.8,409.3 C597.0,408.9 597.1,408.4 597.3,408.0 C597.5,407.6 597.8,407.3 598.0,407.0 C598.2,406.4 598.4,405.9 598.6,405.3 C598.9,404.8 599.0,404.1 599.3,403.6 C599.5,403.3 599.8,403.1 600.0,402.8 C600.4,402.4 600.7,401.9 601.1,401.4 C601.5,401.0 602.0,400.7 602.2,400.2 C602.5,399.4 602.5,398.4 602.7,397.6 C602.8,397.3 603.1,397.0 603.3,396.7 C603.5,396.3 603.5,395.6 603.8,395.4 C604.2,395.2 604.9,395.3 605.4,395.4 C606.0,395.5 606.5,395.8 607.0,396.1 C607.5,396.4 607.9,397.0 608.4,397.2 C608.8,397.3 609.3,396.9 609.7,396.9 C610.2,397.0 610.7,397.4 611.1,397.3 C611.5,397.2 611.9,396.8 612.2,396.4 C612.6,395.9 612.9,395.1 613.2,394.5 C613.6,394.0 614.0,393.5 614.3,392.9 C614.5,392.5 614.6,392.0 614.7,391.6 C614.8,391.1 615.0,390.7 615.1,390.3 C615.2,390.0 615.4,389.7 615.5,389.3 C615.7,388.8 615.5,387.9 615.9,387.5 C616.2,387.2 617.1,387.5 617.5,387.2 C618.1,386.8 618.6,386.2 619.1,385.6 C619.4,385.2 619.5,384.8 619.7,384.4 C619.9,384.1 620.1,383.8 620.3,383.4 C620.5,382.9 620.7,382.4 620.9,381.9 C621.1,381.4 621.3,380.9 621.5,380.5 C621.6,380.2 621.9,380.0 622.0,379.7 C622.3,379.0 622.4,378.3 622.6,377.6 C622.7,377.1 622.8,376.5 623.1,376.1 C623.4,375.8 624.0,375.5 624.4,375.4 C624.9,375.3 625.4,375.5 625.8,375.4 C626.2,375.3 626.7,375.0 627.1,374.7 C627.5,374.3 627.9,374.0 628.2,373.5 C628.6,372.9 628.8,372.2 629.2,371.6 C629.5,371.2 629.9,370.6 630.3,370.3 C630.6,370.1 631.0,370.1 631.4,370.0 C631.7,369.8 632.2,369.8 632.4,369.6 C632.9,369.3 633.1,368.3 633.5,368.3 C634.0,368.2 634.5,369.2 635.1,369.4 C635.6,369.6 636.3,369.6 636.7,369.4 C637.2,369.2 637.4,368.5 637.8,368.1 C638.1,367.8 638.6,367.8 638.9,367.5 C639.4,367.0 639.5,366.2 640.0,365.8 C640.3,365.4 640.9,365.4 641.3,365.1 C641.8,364.9 642.3,364.7 642.7,364.3 C643.2,363.9 643.5,363.3 644.0,362.8 C644.3,362.5 644.7,362.1 645.1,361.8 C645.4,361.4 645.7,361.0 646.1,360.7 C646.4,360.5 647.0,360.7 647.2,360.5 C647.6,360.0 647.6,359.2 647.8,358.6 C648.0,358.2 648.2,357.8 648.4,357.4 C648.6,357.0 648.8,356.6 649.0,356.3 C649.2,355.9 649.4,355.7 649.6,355.3 C649.9,354.7 650.1,354.0 650.4,353.4 C650.7,352.8 650.9,352.2 651.2,351.6 C651.4,351.2 651.8,350.9 652.0,350.4 C652.3,349.8 652.5,349.0 652.9,348.4 C653.1,347.9 653.4,347.5 653.7,347.1 C654.0,346.8 654.3,346.5 654.5,346.1 C654.9,345.6 655.2,345.1 655.4,344.6 C655.6,344.0 655.7,343.3 655.9,342.7 C656.0,342.3 656.2,341.9 656.4,341.5 C656.5,341.2 656.7,340.9 656.8,340.6 C657.1,339.9 657.1,339.1 657.3,338.4 C657.4,338.1 657.6,337.8 657.8,337.5 C658.3,337.0 658.7,336.2 659.3,335.9 C659.7,335.7 660.4,336.2 660.8,336.0 C661.4,335.9 661.8,335.2 662.3,334.8 C662.8,334.4 663.3,333.5 663.8,333.5 C664.2,333.5 664.5,334.4 665.0,334.7 C665.3,334.9 665.8,334.9 666.2,334.9 C666.6,334.8 667.0,334.6 667.4,334.4 C667.8,334.1 668.2,333.7 668.6,333.4 C669.0,333.1 669.4,332.8 669.8,332.5 C670.2,332.3 670.7,332.2 671.0,331.9 C671.5,331.5 671.9,330.8 672.4,330.4 C672.9,330.1 673.4,329.9 673.9,329.8 C674.3,329.7 674.9,329.8 675.3,329.6 C675.8,329.5 676.2,329.0 676.8,328.8 C677.2,328.7 677.8,329.0 678.2,328.8 C678.7,328.6 679.0,328.1 679.4,327.7 C679.8,327.3 680.2,326.9 680.6,326.4 C681.0,325.9 681.4,325.4 681.8,324.9 C682.2,324.5 682.5,324.0 683.0,323.8 C683.3,323.6 683.9,323.9 684.2,323.7 C684.7,323.5 685.0,322.8 685.4,322.3 C685.8,322.0 686.2,321.7 686.6,321.4 C687.0,321.1 687.4,320.8 687.8,320.5 C688.2,320.1 688.6,319.8 689.0,319.5 C689.4,319.2 689.9,318.9 690.3,318.5 C690.7,318.1 691.0,317.6 691.5,317.2 C692.0,316.8 692.6,316.6 693.1,316.3 C693.7,315.9 694.1,315.4 694.7,315.0 C695.2,314.6 695.8,314.3 696.3,314.0 C696.7,313.8 697.1,313.4 697.5,313.3 C697.9,313.2 698.4,313.7 698.8,313.6 C699.3,313.3 699.5,312.3 700.0,312.0 C700.4,311.7 701.1,311.9 701.6,311.8 C702.1,311.7 702.7,311.7 703.2,311.4 C703.8,311.0 704.2,310.1 704.8,309.9 C705.3,309.7 705.9,310.1 706.4,310.2 C706.9,310.3 707.5,310.3 708.0,310.5 C708.6,310.7 709.1,311.5 709.6,311.4 C710.0,311.4 710.4,310.6 710.8,310.3 C711.2,310.1 711.7,310.0 712.0,309.7 C712.5,309.2 712.7,308.3 713.2,307.9 C713.5,307.7 714.0,308.1 714.4,308.0 C715.0,307.9 715.5,307.5 716.0,307.4 C716.6,307.2 717.1,307.1 717.7,307.0 C718.2,307.0 718.9,307.5 719.3,307.3 C719.7,307.1 719.9,306.4 720.3,306.0 C720.6,305.6 721.0,305.4 721.3,305.0 C721.7,304.6 721.9,304.0 722.3,303.6 C722.6,303.2 723.0,302.9 723.3,302.6 C723.7,302.1 724.1,301.6 724.6,301.2 C725.0,300.9 725.5,300.8 726.0,300.6 C726.4,300.4 726.9,300.3 727.3,300.0 C727.9,299.7 728.4,299.2 728.9,298.8 C729.4,298.4 729.9,297.9 730.5,297.7 C731.0,297.4 731.6,297.6 732.1,297.4 C732.5,297.3 732.8,297.0 733.2,296.7 C733.6,296.4 733.9,296.0 734.2,295.6 C734.7,295.0 734.8,294.2 735.3,293.7 C735.6,293.3 736.2,293.2 736.6,292.9 C737.1,292.5 737.5,292.0 738.0,291.6 C738.4,291.3 738.9,290.6 739.3,290.7 C739.8,290.8 740.1,291.9 740.6,292.3 C741.0,292.5 741.5,292.3 742.0,292.4 C742.4,292.5 742.8,292.9 743.3,293.1 C743.8,293.3 744.4,293.4 744.9,293.6 C745.5,293.8 746.0,294.0 746.6,294.3 C747.1,294.6 747.6,295.0 748.2,295.1 C748.6,295.2 749.1,294.8 749.6,294.7 C750.1,294.6 750.5,294.5 751.0,294.5 C751.5,294.5 751.9,294.6 752.4,294.6 C752.9,294.6 753.3,294.7 753.8,294.6 C754.2,294.6 754.8,294.6 755.1,294.3 C755.7,293.8 755.9,292.9 756.5,292.4 C756.8,292.1 757.4,292.2 757.8,292.0 C758.4,291.8 758.9,291.2 759.4,291.2 C759.9,291.2 760.5,292.0 761.0,292.0 C761.5,292.1 762.0,291.5 762.6,291.4 C763.1,291.3 763.7,291.6 764.2,291.5 C764.8,291.3 765.3,290.9 765.8,290.6 C766.3,290.2 766.8,289.8 767.4,289.6 C767.9,289.4 768.5,289.4 769.0,289.5 C769.6,289.6 770.1,290.1 770.6,290.2 C771.1,290.2 771.7,289.8 772.2,289.7 C772.7,289.6 773.3,289.6 773.8,289.5 C774.4,289.3 774.9,288.9 775.5,288.8 C776.0,288.6 776.6,288.7 777.1,288.6 C777.6,288.5 778.1,288.3 778.5,288.1 C779.0,287.9 779.4,287.4 779.9,287.3 C780.4,287.2 780.9,287.6 781.4,287.6 C781.8,287.6 782.3,287.4 782.8,287.3 C783.3,287.2 783.7,287.1 784.2,287.0 C784.8,286.9 785.4,286.9 786.0,286.8 C786.6,286.8 787.2,286.7 787.8,286.6 C788.3,286.6 788.9,286.5 789.5,286.5 C790.1,286.4 790.7,286.4 791.3,286.3 C791.8,286.2 792.2,286.1 792.7,286.0 C793.2,285.9 793.7,285.8 794.1,285.7 C794.6,285.6 795.1,285.6 795.6,285.5 C796.0,285.4 796.5,285.3 797.0,285.2 C797.5,285.1 797.9,285.0 798.4,284.9 C798.9,284.8 799.3,284.7 799.8,284.6 C800.3,284.5 800.8,284.4 801.2,284.3 C801.7,284.2 802.2,284.1 802.7,284.0 C803.1,283.9 803.6,283.8 804.1,283.7 C804.6,283.6 805.0,283.4 805.5,283.4 C806.1,283.3 806.7,283.4 807.3,283.4 C807.9,283.4 808.5,283.4 809.0,283.4 C809.6,283.4 810.2,283.4 810.8,283.4 C811.4,283.4 812.0,283.4 812.6,283.4 C813.1,283.4 813.6,283.3 814.0,283.3 C814.5,283.2 815.0,283.2 815.5,283.1 C816.0,283.1 816.4,283.0 816.9,283.0 C817.4,282.9 817.9,282.9 818.4,282.8 C818.8,282.8 819.3,282.7 819.8,282.7 C820.4,282.6 821.0,282.6 821.6,282.5 C822.2,282.5 822.8,282.4 823.3,282.4 C823.9,282.3 824.5,282.2 825.1,282.2 C825.7,282.1 826.3,282.1 826.9,282.0 C827.4,281.9 827.8,281.8 828.3,281.7 C828.8,281.6 829.3,281.5 829.7,281.4 C830.2,281.3 830.7,281.3 831.2,281.2 C831.6,281.1 832.1,281.0 832.6,280.9 C833.1,280.8 833.5,280.7 834.0,280.6" fill="none" stroke="#ff0000" stroke-width="3.9" stroke-linecap="round" stroke-linejoin="round"/>
<path d="M405.0,276.7 C405.6,276.7 406.1,276.7 406.7,276.7 C407.2,276.7 407.8,276.8 408.3,276.8 C408.9,276.8 409.4,276.8 410.0,276.8 C410.6,276.8 411.1,276.8 411.7,276.8 C412.2,276.8 412.8,276.9 413.3,276.9 C413.9,276.9 414.4,276.9 415.0,276.9 C415.6,276.9 416.1,276.9 416.7,276.9 C417.2,276.9 417.8,277.0 418.3,277.0 C418.9,277.0 419.4,277.0 420.0,277.0 C420.6,277.0 421.1,277.0 421.7,277.0 C422.2,277.0 422.8,277.1 423.3,277.1 C423.9,277.1 424.4,277.1 425.0,277.1 C425.6,277.1 426.1,277.1 426.7,277.1 C427.2,277.1 427.8,277.2 428.3,277.2 C428.9,277.2 429.4,277.2 430.0,277.2 C430.6,277.2 431.1,277.2 431.7,277.2 C432.2,277.2 432.8,277.3 433.3,277.3 C433.9,277.3 434.4,277.3 435.0,277.3 C435.6,277.3 436.1,277.3 436.7,277.3 C437.2,277.3 437.8,277.4 438.3,277.4 C438.9,277.4 439.4,277.4 440.0,277.4 C440.6,277.4 441.1,277.4 441.7,277.4 C442.2,277.4 442.8,277.5 443.3,277.5 C443.9,277.5 444.4,277.5 445.0,277.5 C445.6,277.5 446.1,277.5 446.7,277.5 C447.2,277.5 447.8,277.6 448.3,277.6 C448.9,277.6 449.4,277.6 450.0,277.6 C450.6,277.6 451.1,277.6 451.7,277.6 C452.2,277.6 452.8,277.7 453.3,277.7 C453.9,277.7 454.4,277.7 455.0,277.7 C455.5,277.7 456.0,277.7 456.5,277.8 C457.0,277.8 457.6,277.8 458.1,277.8 C458.6,277.8 459.1,277.8 459.6,277.9 C460.1,277.9 460.6,277.9 461.1,277.9 C461.6,277.9 462.2,277.9 462.7,277.9 C463.2,278.0 463.7,277.9 464.2,278.0 C464.6,278.1 465.0,278.2 465.4,278.3 C465.8,278.4 466.3,278.6 466.7,278.7 C467.1,278.8 467.5,278.8 467.9,279.0 C468.3,279.2 468.6,279.7 468.9,280.0 C469.3,280.3 469.6,280.7 469.9,281.0 C470.3,281.3 470.6,281.7 471.0,282.0 C471.3,282.3 471.7,282.7 472.0,283.0 C472.4,283.4 472.7,283.7 473.1,284.1 C473.5,284.5 473.8,284.9 474.2,285.2 C474.6,285.5 475.0,285.8 475.5,286.1 C475.9,286.4 476.3,286.6 476.7,286.9 C477.2,287.2 477.6,287.5 478.0,287.8 C478.4,288.1 478.8,288.4 479.3,288.7 C479.7,289.0 480.1,289.2 480.5,289.5 C481.0,289.8 481.4,290.1 481.8,290.4 C482.2,290.7 482.7,290.9 483.1,291.2 C483.6,291.5 484.1,291.7 484.5,292.0 C485.0,292.3 485.4,292.7 485.8,293.1 C486.2,293.4 486.7,293.8 487.1,294.1 C487.5,294.5 488.0,294.8 488.4,295.2 C488.8,295.6 489.1,296.2 489.4,296.6 C489.8,297.1 490.1,297.6 490.5,298.1 C490.8,298.5 491.1,299.0 491.5,299.5 C491.8,299.9 492.1,300.2 492.4,300.6 C492.7,300.9 492.9,301.3 493.2,301.6 C493.5,302.0 493.9,302.3 494.1,302.7 C494.4,303.2 494.6,303.7 494.9,304.2 C495.1,304.7 495.4,305.2 495.6,305.7 C495.9,306.2 496.1,306.8 496.4,307.3 C496.6,307.8 496.9,308.3 497.1,308.8 C497.4,309.3 497.6,309.8 497.9,310.3 C498.2,310.8 498.4,311.3 498.7,311.8 C498.9,312.3 499.1,312.9 499.4,313.3 C499.6,313.7 500.0,314.0 500.2,314.4 C500.5,314.9 500.7,315.5 500.9,316.0 C501.2,316.6 501.5,317.1 501.7,317.7 C502.0,318.3 502.1,319.1 502.5,319.7 C502.6,320.0 503.0,320.2 503.2,320.5 C503.5,321.0 503.7,321.7 504.0,322.1 C504.2,322.4 504.6,322.4 504.7,322.7 C505.1,323.2 505.2,323.9 505.5,324.5 C505.7,325.1 506.0,325.7 506.3,326.3 C506.5,326.6 506.8,326.9 507.0,327.2 C507.3,327.8 507.5,328.5 507.8,329.1 C508.0,329.5 508.2,329.9 508.5,330.3 C508.8,330.6 509.1,330.8 509.3,331.0 C509.6,331.4 510.0,331.7 510.2,332.1 C510.6,332.9 510.8,333.8 511.2,334.5 C511.4,334.9 511.9,335.0 512.1,335.3 C512.5,335.7 512.8,336.2 513.1,336.7 C513.4,337.5 513.6,338.3 514.0,339.1 C514.2,339.5 514.5,339.8 514.8,340.1 C515.1,340.4 515.4,340.7 515.6,341.0 C516.0,341.5 516.2,342.1 516.7,342.5 C516.9,342.8 517.4,342.8 517.7,343.0 C518.1,343.4 518.5,343.9 518.8,344.3 C519.2,344.8 519.6,345.2 519.9,345.7 C520.3,346.5 520.4,347.5 520.9,348.2 C521.1,348.5 521.8,348.3 522.0,348.5 C522.3,348.9 522.5,349.5 522.7,350.0 C522.9,350.4 523.2,350.8 523.4,351.2 C523.6,351.7 523.9,352.2 524.1,352.7 C524.3,353.1 524.6,353.6 524.8,354.0 C525.1,354.6 525.2,355.3 525.5,355.8 C525.7,356.2 526.0,356.5 526.2,356.8 C526.5,357.3 526.8,357.8 527.0,358.3 C527.3,358.9 527.4,359.7 527.8,360.3 C527.9,360.5 528.4,360.4 528.5,360.6 C528.9,361.2 529.0,362.0 529.4,362.7 C529.6,363.2 529.9,363.5 530.2,364.0 C530.5,364.3 530.9,364.7 531.1,365.1 C531.4,365.5 531.5,366.0 531.7,366.5 C531.9,367.1 532.1,367.7 532.3,368.2 C532.5,368.6 532.7,369.1 532.9,369.5 C533.1,369.8 533.3,370.1 533.5,370.5 C533.8,371.0 534.1,371.6 534.4,372.1 C534.7,372.6 535.0,373.0 535.3,373.5 C535.6,374.0 535.9,374.6 536.2,375.2 C536.5,375.9 536.6,376.9 537.1,377.4 C537.4,377.7 538.1,377.5 538.6,377.6 C539.1,377.8 539.7,377.9 540.1,378.1 C540.7,378.5 541.1,379.1 541.6,379.5 C542.1,380.0 542.5,380.6 543.1,380.9 C543.4,381.1 544.0,380.9 544.3,381.0 C544.8,381.2 545.1,381.8 545.5,381.9 C545.9,382.1 546.4,381.7 546.8,381.8 C547.2,381.9 547.6,382.1 548.0,382.4 C548.5,382.7 549.0,383.3 549.5,383.4 C550.0,383.5 550.5,382.9 551.0,383.0 C551.5,383.0 552.0,383.4 552.5,383.6 C553.0,383.7 553.6,384.1 554.0,384.0 C554.5,383.8 554.8,383.0 555.2,382.5 C555.6,382.1 556.0,381.6 556.4,381.1 C556.8,380.7 557.3,379.8 557.6,379.9 C558.1,380.0 558.3,381.3 558.8,381.8 C559.1,382.1 559.6,382.0 560.0,382.2 C560.4,382.5 560.7,383.1 561.2,383.3 C561.5,383.5 562.0,383.4 562.4,383.5 C562.9,383.7 563.3,384.0 563.8,384.2 C564.3,384.3 564.8,384.2 565.3,384.2 C565.8,384.1 566.2,384.0 566.7,384.0 C567.2,384.0 567.7,384.0 568.2,384.0 C568.6,384.0 569.2,384.3 569.6,384.1 C570.1,383.9 570.4,383.1 570.8,382.7 C571.2,382.4 571.6,382.1 572.0,381.9 C572.4,381.6 572.9,381.5 573.2,381.2 C573.7,380.8 573.9,379.7 574.4,379.5 C574.8,379.4 575.5,380.1 576.1,380.1 C576.6,380.1 577.2,379.6 577.8,379.4 C578.3,379.3 578.9,379.3 579.4,379.3 C580.0,379.3 580.6,379.4 581.1,379.3 C581.7,379.3 582.2,378.9 582.8,378.9 C583.3,378.9 583.8,379.0 584.2,379.2 C584.7,379.4 585.1,379.9 585.5,380.2 C586.0,380.5 586.5,380.6 586.9,380.8 C587.4,381.1 587.8,381.6 588.3,381.7 C588.6,381.8 589.1,381.7 589.3,381.5 C589.8,381.0 590.0,380.2 590.4,379.7 C590.7,379.3 591.2,379.1 591.5,378.7 C591.9,378.3 592.1,377.7 592.5,377.1 C592.9,376.5 593.2,375.8 593.7,375.4 C594.0,375.1 594.6,375.2 594.9,375.0 C595.4,374.6 595.7,374.2 596.1,373.7 C596.5,373.2 596.9,372.5 597.3,371.9 C597.7,371.4 598.1,370.8 598.6,370.4 C599.0,370.1 599.7,370.0 600.0,369.6 C600.4,369.1 600.6,368.4 600.9,367.9 C601.2,367.5 601.5,367.1 601.8,366.6 C602.1,366.1 602.3,365.3 602.7,364.8 C602.9,364.5 603.3,364.3 603.6,364.1 C604.0,363.8 604.5,363.8 604.8,363.5 C605.3,363.0 605.5,362.2 606.0,361.7 C606.2,361.4 606.7,361.5 606.9,361.3 C607.3,360.9 607.5,360.4 607.8,360.0 C608.1,359.6 608.3,359.2 608.7,358.8 C608.9,358.6 609.4,358.6 609.6,358.3 C610.0,357.8 610.1,357.0 610.5,356.4 C610.7,356.1 611.2,356.0 611.4,355.7 C611.8,355.1 611.9,354.1 612.3,353.6 C612.5,353.4 613.0,353.7 613.2,353.5 C613.7,353.0 614.0,352.1 614.4,351.6 C614.8,351.1 615.2,350.6 615.6,350.4 C616.0,350.2 616.5,350.6 616.9,350.5 C617.3,350.3 617.7,349.7 618.1,349.3 C618.5,349.0 618.8,348.5 619.3,348.3 C619.8,348.2 620.4,348.5 620.9,348.4 C621.4,348.4 622.0,348.1 622.5,348.0 C623.0,347.8 623.6,347.8 624.1,347.6 C624.6,347.5 625.1,347.3 625.6,347.3 C626.1,347.3 626.6,347.5 627.1,347.4 C627.6,347.4 628.2,347.2 628.6,346.9 C629.2,346.5 629.5,345.8 630.1,345.4 C630.6,345.1 631.2,345.0 631.7,344.8 C632.2,344.6 632.7,344.2 633.3,344.0 C633.8,343.9 634.5,344.1 634.9,343.8 C635.5,343.4 635.9,342.2 636.5,341.9 C636.9,341.7 637.6,342.3 638.1,342.1 C638.7,341.8 639.2,341.1 639.7,340.6 C640.0,340.3 640.4,339.9 640.6,339.5 C641.0,338.8 641.2,338.1 641.5,337.5 C641.8,336.9 642.0,336.3 642.4,335.9 C642.6,335.6 643.1,335.6 643.3,335.4 C643.8,334.9 644.0,334.2 644.5,333.7 C644.8,333.4 645.4,333.3 645.7,333.1 C646.2,332.7 646.5,332.2 646.9,331.7 C647.3,331.3 647.8,330.9 648.1,330.4 C648.6,329.8 648.8,328.9 649.3,328.4 C649.6,328.1 650.1,328.0 650.5,327.8 C650.9,327.6 651.4,327.4 651.7,327.1 C652.2,326.6 652.4,325.7 652.9,325.3 C653.3,325.0 654.0,325.1 654.5,325.2 C655.1,325.3 655.7,325.4 656.2,325.7 C656.8,326.1 657.2,327.0 657.8,327.1 C658.2,327.2 658.8,326.7 659.2,326.4 C659.8,325.9 660.1,325.2 660.7,324.8 C661.1,324.4 661.6,324.3 662.1,324.1 C662.6,324.0 663.1,324.1 663.6,323.9 C664.1,323.7 664.6,323.3 665.0,322.9 C665.5,322.5 665.7,321.7 666.2,321.3 C666.5,321.1 667.1,321.3 667.4,321.1 C667.9,320.7 668.2,320.0 668.6,319.4 C669.0,319.0 669.4,318.6 669.8,318.2 C670.2,317.7 670.5,317.1 671.0,316.8 C671.3,316.5 671.8,316.5 672.2,316.4 C672.6,316.2 673.1,316.0 673.4,315.7 C673.9,315.2 674.1,314.5 674.6,314.0 C674.9,313.6 675.3,313.2 675.8,313.0 C676.1,312.8 676.6,313.0 677.0,312.9 C677.4,312.7 677.9,312.5 678.2,312.2 C678.7,311.8 678.9,310.9 679.4,310.7 C679.8,310.4 680.5,310.7 681.0,310.8 C681.5,310.8 682.1,311.0 682.6,311.0 C683.1,311.0 683.8,311.0 684.2,310.8 C684.7,310.6 684.9,309.9 685.4,309.6 C685.7,309.3 686.2,309.2 686.6,308.9 C687.0,308.7 687.4,308.2 687.8,308.0 C688.2,307.9 688.8,307.9 689.3,307.8 C689.8,307.7 690.2,307.5 690.7,307.4 C691.2,307.4 691.7,307.6 692.2,307.5 C692.7,307.5 693.2,307.1 693.6,307.1 C694.1,307.1 694.7,307.7 695.1,307.6 C695.6,307.5 695.9,306.7 696.5,306.5 C696.8,306.4 697.4,306.9 697.8,306.8 C698.3,306.7 698.7,306.4 699.1,306.1 C699.6,305.8 700.0,305.4 700.5,305.0 C701.0,304.6 701.4,304.2 702.0,303.9 C702.4,303.6 703.0,303.6 703.5,303.4 C704.0,303.1 704.4,302.6 704.9,302.3 C705.4,301.9 705.9,301.7 706.4,301.3 C707.0,300.9 707.4,300.3 708.0,300.0 C708.5,299.8 709.1,299.9 709.6,299.7 C710.1,299.6 710.7,299.5 711.2,299.2 C711.8,298.9 712.2,298.4 712.8,298.0 C713.3,297.7 713.9,297.3 714.4,297.2 C714.9,297.1 715.6,297.6 716.0,297.4 C716.7,297.2 717.1,296.3 717.7,296.1 C718.1,295.9 718.8,296.4 719.3,296.3 C719.9,296.2 720.4,295.9 720.9,295.6 C721.5,295.3 721.9,294.6 722.5,294.5 C723.0,294.3 723.6,294.8 724.1,294.7 C724.7,294.6 725.2,294.0 725.7,294.0 C726.2,294.0 726.8,294.5 727.3,294.4 C727.9,294.4 728.4,293.9 728.9,293.7 C729.4,293.4 730.0,293.0 730.5,293.0 C731.0,293.0 731.6,293.6 732.1,293.7 C732.6,293.7 733.2,293.4 733.7,293.2 C734.2,293.0 734.8,292.8 735.3,292.6 C735.8,292.5 736.4,292.5 736.9,292.3 C737.5,292.1 738.0,291.5 738.5,291.5 C739.0,291.5 739.6,292.4 740.1,292.4 C740.6,292.3 741.1,291.5 741.7,291.3 C742.2,291.1 742.8,291.4 743.3,291.3 C743.8,291.3 744.4,291.2 744.9,291.1 C745.5,291.0 746.0,291.0 746.5,290.9 C747.1,290.7 747.6,290.1 748.2,290.1 C748.7,290.1 749.3,291.1 749.8,291.0 C750.2,290.9 750.5,290.0 750.9,289.6 C751.2,289.2 751.5,288.8 751.9,288.5 C752.2,288.3 752.6,288.2 753.0,288.1 C753.5,288.0 754.1,288.0 754.6,287.9 C755.1,287.8 755.7,287.6 756.2,287.6 C756.7,287.5 757.3,287.7 757.8,287.6 C758.4,287.4 758.8,287.0 759.4,286.7 C759.9,286.5 760.4,286.2 761.0,286.1 C761.5,286.0 762.1,286.1 762.6,286.1 C763.1,286.1 763.7,286.1 764.2,286.1 C764.7,286.1 765.3,286.1 765.8,286.0 C766.3,286.0 766.9,285.9 767.4,285.9 C767.9,285.8 768.5,285.7 769.0,285.6 C769.5,285.5 770.1,285.5 770.6,285.4 C771.1,285.4 771.7,285.4 772.2,285.4 C772.7,285.4 773.3,285.3 773.8,285.2 C774.4,285.0 774.9,284.5 775.5,284.4 C776.0,284.4 776.6,285.0 777.1,285.0 C777.7,285.0 778.3,284.5 778.9,284.4 C779.5,284.4 780.1,284.5 780.7,284.5 C781.2,284.5 781.8,284.4 782.4,284.3 C783.0,284.2 783.6,284.2 784.2,284.1 C784.8,284.0 785.4,283.9 786.0,283.9 C786.6,283.8 787.2,283.7 787.8,283.6 C788.3,283.5 788.9,283.4 789.5,283.4 C790.1,283.3 790.7,283.2 791.3,283.1 C791.9,283.0 792.5,283.0 793.1,282.9 C793.7,282.9 794.3,282.8 794.8,282.8 C795.4,282.7 796.0,282.6 796.6,282.6 C797.2,282.5 797.8,282.5 798.4,282.4 C799.0,282.3 799.6,282.3 800.2,282.2 C800.8,282.2 801.4,282.1 802.0,282.0 C802.5,282.0 803.1,281.9 803.7,281.9 C804.3,281.8 804.9,281.7 805.5,281.7 C806.1,281.7 806.7,281.6 807.3,281.6 C807.9,281.6 808.5,281.5 809.0,281.5 C809.6,281.5 810.2,281.4 810.8,281.4 C811.4,281.4 812.0,281.3 812.6,281.3 C813.1,281.3 813.6,281.2 814.0,281.2 C814.5,281.1 815.0,281.1 815.5,281.0 C816.0,281.0 816.4,280.9 816.9,280.9 C817.4,280.8 817.9,280.8 818.4,280.7 C818.8,280.7 819.3,280.6 819.8,280.6 C820.4,280.5 821.0,280.5 821.6,280.4 C822.2,280.4 822.8,280.3 823.3,280.2 C823.9,280.2 824.5,280.1 825.1,280.1 C825.7,280.0 826.3,280.0 826.9,279.9 C827.5,279.8 828.1,279.8 828.7,279.7 C829.3,279.7 829.9,279.6 830.5,279.5 C831.0,279.5 831.6,279.4 832.2,279.4 C832.8,279.3 833.4,279.3 834.0,279.2" fill="none" stroke="#000000" stroke-width="3.9" stroke-linecap="round" stroke-linejoin="round"/>
</g>
<rect x="112.5" y="8.2" width="721.7" height="538.3" fill="none" stroke="#000" stroke-width="2"/>
<line x1="112.5" y1="277.4" x2="834.2" y2="277.4" stroke="#000" stroke-width="1.3"/>
<line x1="105.5" y1="546.5" x2="112.5" y2="546.5" stroke="#000" stroke-width="2"/>
<line x1="105.5" y1="479.2" x2="112.5" y2="479.2" stroke="#000" stroke-width="2"/>
<line x1="105.5" y1="411.9" x2="112.5" y2="411.9" stroke="#000" stroke-width="2"/>
<line x1="105.5" y1="344.6" x2="112.5" y2="344.6" stroke="#000" stroke-width="2"/>
<line x1="105.5" y1="277.4" x2="112.5" y2="277.4" stroke="#000" stroke-width="2"/>
<line x1="105.5" y1="210.1" x2="112.5" y2="210.1" stroke="#000" stroke-width="2"/>
<line x1="105.5" y1="142.8" x2="112.5" y2="142.8" stroke="#000" stroke-width="2"/>
<line x1="105.5" y1="75.5" x2="112.5" y2="75.5" stroke="#000" stroke-width="2"/>
<line x1="105.5" y1="8.2" x2="112.5" y2="8.2" stroke="#000" stroke-width="2"/>
<line x1="112.5" y1="539.3" x2="112.5" y2="546.5" stroke="#000" stroke-width="2"/>
<line x1="225.3" y1="539.3" x2="225.3" y2="546.5" stroke="#000" stroke-width="2"/>
<line x1="338.0" y1="539.3" x2="338.0" y2="546.5" stroke="#000" stroke-width="2"/>
<line x1="450.8" y1="539.3" x2="450.8" y2="546.5" stroke="#000" stroke-width="2"/>
<line x1="563.6" y1="539.3" x2="563.6" y2="546.5" stroke="#000" stroke-width="2"/>
<line x1="676.3" y1="539.3" x2="676.3" y2="546.5" stroke="#000" stroke-width="2"/>
<line x1="789.1" y1="539.3" x2="789.1" y2="546.5" stroke="#000" stroke-width="2"/>
<line x1="827.2" y1="8.2" x2="834.2" y2="8.2" stroke="#000" stroke-width="2"/>
<line x1="827.2" y1="115.9" x2="834.2" y2="115.9" stroke="#000" stroke-width="2"/>
<line x1="827.2" y1="223.5" x2="834.2" y2="223.5" stroke="#000" stroke-width="2"/>
<line x1="827.2" y1="331.2" x2="834.2" y2="331.2" stroke="#000" stroke-width="2"/>
<line x1="827.2" y1="438.8" x2="834.2" y2="438.8" stroke="#000" stroke-width="2"/>
<line x1="827.2" y1="546.5" x2="834.2" y2="546.5" stroke="#000" stroke-width="2"/>
<g font-size="23">
<line x1="856" y1="115.5" x2="920.3" y2="115.5" stroke="#ff0000" stroke-width="3.9" stroke-linecap="round"/>
<text x="927.5" y="122.7" fill="#ff0000" font-weight="bold">3aa (+)</text>
<line x1="856" y1="163.1" x2="920.3" y2="163.1" stroke="#ff0000" stroke-width="3.9" stroke-linecap="round" stroke-dasharray="8 7.2"/>
<text x="927.5" y="170.2" fill="#ff0000" font-weight="bold">3aa (-)</text>
<line x1="856" y1="210.6" x2="920.3" y2="210.6" stroke="#000000" stroke-width="3.9" stroke-linecap="round"/>
<text x="927.5" y="217.8" fill="#000000" font-weight="bold" style="filter:grayscale(1)">3ab (+)</text>
<line x1="856" y1="258.1" x2="920.3" y2="258.1" stroke="#000000" stroke-width="3.9" stroke-linecap="round" stroke-dasharray="8 7.2"/>
<text x="927.5" y="265.3" fill="#000000" font-weight="bold" style="filter:grayscale(1)">3ab (-)</text>
</g>
<g font-weight="bold" font-size="31" style="filter:grayscale(1)">
<text x="279.5" y="496">CD</text>
<text x="552.6" y="495.8">CPL</text>
</g>
<path d="M207.8,483.8 L222.8,476.1 L222.8,491.5 Z" fill="#000"/>
<rect x="222" y="481.8" width="41.5" height="4" fill="#000"/>
<rect x="613.7" y="478.1" width="67" height="4" fill="#000"/>
<path d="M694.3,480.1 L679.8,472.4 L679.8,487.8 Z" fill="#000"/>
</svg>
</body></html>
